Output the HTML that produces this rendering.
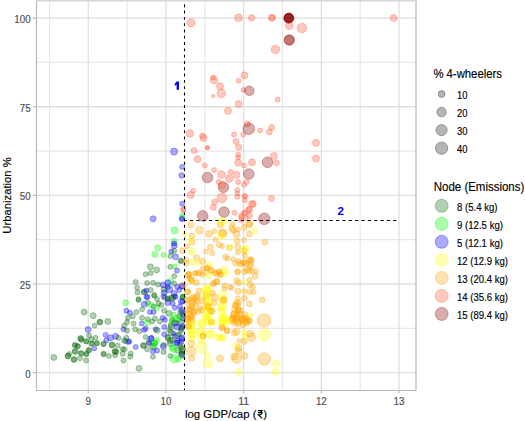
<!DOCTYPE html>
<html><head><meta charset="utf-8"><style>
html,body{margin:0;padding:0;background:#fff;width:525px;height:421px;overflow:hidden;}
svg{display:block;font-family:"Liberation Sans",sans-serif;}
</style></head><body>
<svg width="525" height="421" viewBox="0 0 525 421">
<rect x="0" y="0" width="525" height="421" fill="#ffffff"/>
<defs><clipPath id="pc"><rect x="36" y="0.5" width="380" height="390.0"/></clipPath></defs>
<path d="M49.42 0.5V390.5 M127.11 0.5V390.5 M204.80 0.5V390.5 M282.49 0.5V390.5 M360.17 0.5V390.5 M36 328.29H416 M36 239.66H416 M36 151.04H416 M36 62.41H416" stroke="#e8e8e8" stroke-width="1.2" fill="none"/>
<path d="M88.26 0.5V390.5 M165.95 0.5V390.5 M243.64 0.5V390.5 M321.33 0.5V390.5 M399.02 0.5V390.5 M36 372.60H416 M36 283.98H416 M36 195.35H416 M36 106.73H416 M36 18.10H416" stroke="#e0e0e0" stroke-width="1.3" fill="none"/>
<g clip-path="url(#pc)">
<circle cx="191.0" cy="22.9" r="4.15" fill="#ff6347" fill-opacity="0.35" stroke="#ff6347" stroke-opacity="0.35" stroke-width="1.0"/>
<circle cx="238.5" cy="17.8" r="3.80" fill="#ff6347" fill-opacity="0.35" stroke="#ff6347" stroke-opacity="0.35" stroke-width="1.0"/>
<circle cx="251.5" cy="17.8" r="3.25" fill="#ff6347" fill-opacity="0.35" stroke="#ff6347" stroke-opacity="0.35" stroke-width="1.0"/>
<circle cx="271.9" cy="17.8" r="3.50" fill="#ff6347" fill-opacity="0.35" stroke="#ff6347" stroke-opacity="0.35" stroke-width="1.0"/>
<circle cx="271.9" cy="17.8" r="3.00" fill="#ff6347" fill-opacity="0.35" stroke="#ff6347" stroke-opacity="0.35" stroke-width="1.0"/>
<circle cx="288.8" cy="18.1" r="5.15" fill="#8b0000" fill-opacity="0.32" stroke="#8b0000" stroke-opacity="0.32" stroke-width="1.0"/>
<circle cx="288.8" cy="18.1" r="4.80" fill="#8b0000" fill-opacity="0.32" stroke="#8b0000" stroke-opacity="0.32" stroke-width="1.0"/>
<circle cx="288.8" cy="18.1" r="4.30" fill="#8b0000" fill-opacity="0.32" stroke="#8b0000" stroke-opacity="0.32" stroke-width="1.0"/>
<circle cx="289.3" cy="25.8" r="3.80" fill="#ff6347" fill-opacity="0.35" stroke="#ff6347" stroke-opacity="0.35" stroke-width="1.0"/>
<circle cx="301.9" cy="28.0" r="4.80" fill="#ff6347" fill-opacity="0.35" stroke="#ff6347" stroke-opacity="0.35" stroke-width="1.0"/>
<circle cx="289.3" cy="40.0" r="5.30" fill="#8b0000" fill-opacity="0.32" stroke="#8b0000" stroke-opacity="0.32" stroke-width="1.0"/>
<circle cx="275.5" cy="49.5" r="4.30" fill="#ff6347" fill-opacity="0.35" stroke="#ff6347" stroke-opacity="0.35" stroke-width="1.0"/>
<circle cx="393.6" cy="18.1" r="3.50" fill="#ff6347" fill-opacity="0.35" stroke="#ff6347" stroke-opacity="0.35" stroke-width="1.0"/>
<circle cx="213.1" cy="77.5" r="2.50" fill="#ff6347" fill-opacity="0.35" stroke="#ff6347" stroke-opacity="0.35" stroke-width="1.0"/>
<circle cx="214.1" cy="80.1" r="3.80" fill="#ff6347" fill-opacity="0.35" stroke="#ff6347" stroke-opacity="0.35" stroke-width="1.0"/>
<circle cx="220.0" cy="86.3" r="3.50" fill="#ff6347" fill-opacity="0.35" stroke="#ff6347" stroke-opacity="0.35" stroke-width="1.0"/>
<circle cx="221.3" cy="93.5" r="4.30" fill="#ff6347" fill-opacity="0.35" stroke="#ff6347" stroke-opacity="0.35" stroke-width="1.0"/>
<circle cx="213.1" cy="96.1" r="1.75" fill="#ff6347" fill-opacity="0.35" stroke="#ff6347" stroke-opacity="0.35" stroke-width="1.0"/>
<circle cx="238.7" cy="80.7" r="2.50" fill="#ff6347" fill-opacity="0.35" stroke="#ff6347" stroke-opacity="0.35" stroke-width="1.0"/>
<circle cx="244.5" cy="75.3" r="3.50" fill="#ff6347" fill-opacity="0.35" stroke="#ff6347" stroke-opacity="0.35" stroke-width="1.0"/>
<circle cx="243.5" cy="90.0" r="2.50" fill="#ff6347" fill-opacity="0.35" stroke="#ff6347" stroke-opacity="0.35" stroke-width="1.0"/>
<circle cx="249.3" cy="90.8" r="4.80" fill="#8b0000" fill-opacity="0.32" stroke="#8b0000" stroke-opacity="0.32" stroke-width="1.0"/>
<circle cx="238.7" cy="104.1" r="3.50" fill="#ff6347" fill-opacity="0.35" stroke="#ff6347" stroke-opacity="0.35" stroke-width="1.0"/>
<circle cx="228.0" cy="110.8" r="3.50" fill="#ff6347" fill-opacity="0.35" stroke="#ff6347" stroke-opacity="0.35" stroke-width="1.0"/>
<circle cx="277.6" cy="99.6" r="2.50" fill="#ff6347" fill-opacity="0.35" stroke="#ff6347" stroke-opacity="0.35" stroke-width="1.0"/>
<circle cx="189.9" cy="133.5" r="3.80" fill="#ff6347" fill-opacity="0.35" stroke="#ff6347" stroke-opacity="0.35" stroke-width="1.0"/>
<circle cx="203.5" cy="138.0" r="3.50" fill="#ff6347" fill-opacity="0.35" stroke="#ff6347" stroke-opacity="0.35" stroke-width="1.0"/>
<circle cx="202.5" cy="136.0" r="3.00" fill="#ff6347" fill-opacity="0.35" stroke="#ff6347" stroke-opacity="0.35" stroke-width="1.0"/>
<circle cx="207.5" cy="147.9" r="2.00" fill="#ff6347" fill-opacity="0.35" stroke="#ff6347" stroke-opacity="0.35" stroke-width="1.0"/>
<circle cx="194.1" cy="150.5" r="3.00" fill="#ff6347" fill-opacity="0.35" stroke="#ff6347" stroke-opacity="0.35" stroke-width="1.0"/>
<circle cx="197.6" cy="159.1" r="3.50" fill="#ff6347" fill-opacity="0.35" stroke="#ff6347" stroke-opacity="0.35" stroke-width="1.0"/>
<circle cx="204.8" cy="165.5" r="2.50" fill="#ff6347" fill-opacity="0.35" stroke="#ff6347" stroke-opacity="0.35" stroke-width="1.0"/>
<circle cx="214.1" cy="170.0" r="2.50" fill="#ff6347" fill-opacity="0.35" stroke="#ff6347" stroke-opacity="0.35" stroke-width="1.0"/>
<circle cx="221.3" cy="174.5" r="3.80" fill="#ff6347" fill-opacity="0.35" stroke="#ff6347" stroke-opacity="0.35" stroke-width="1.0"/>
<circle cx="230.7" cy="171.9" r="2.50" fill="#ff6347" fill-opacity="0.35" stroke="#ff6347" stroke-opacity="0.35" stroke-width="1.0"/>
<circle cx="236.5" cy="174.8" r="3.50" fill="#ff6347" fill-opacity="0.35" stroke="#ff6347" stroke-opacity="0.35" stroke-width="1.0"/>
<circle cx="207.5" cy="177.5" r="5.30" fill="#8b0000" fill-opacity="0.32" stroke="#8b0000" stroke-opacity="0.32" stroke-width="1.0"/>
<circle cx="234.1" cy="134.5" r="2.50" fill="#ff6347" fill-opacity="0.35" stroke="#ff6347" stroke-opacity="0.35" stroke-width="1.0"/>
<circle cx="243.2" cy="134.5" r="2.50" fill="#ff6347" fill-opacity="0.35" stroke="#ff6347" stroke-opacity="0.35" stroke-width="1.0"/>
<circle cx="236.0" cy="141.5" r="3.00" fill="#ff6347" fill-opacity="0.35" stroke="#ff6347" stroke-opacity="0.35" stroke-width="1.0"/>
<circle cx="238.7" cy="147.3" r="3.00" fill="#ff6347" fill-opacity="0.35" stroke="#ff6347" stroke-opacity="0.35" stroke-width="1.0"/>
<circle cx="238.1" cy="154.8" r="2.50" fill="#ff6347" fill-opacity="0.35" stroke="#ff6347" stroke-opacity="0.35" stroke-width="1.0"/>
<circle cx="238.1" cy="157.5" r="2.50" fill="#ff6347" fill-opacity="0.35" stroke="#ff6347" stroke-opacity="0.35" stroke-width="1.0"/>
<circle cx="238.1" cy="162.8" r="3.50" fill="#ff6347" fill-opacity="0.35" stroke="#ff6347" stroke-opacity="0.35" stroke-width="1.0"/>
<circle cx="244.0" cy="165.5" r="2.50" fill="#ff6347" fill-opacity="0.35" stroke="#ff6347" stroke-opacity="0.35" stroke-width="1.0"/>
<circle cx="247.2" cy="123.9" r="3.00" fill="#ff6347" fill-opacity="0.35" stroke="#ff6347" stroke-opacity="0.35" stroke-width="1.0"/>
<circle cx="248.8" cy="128.7" r="5.80" fill="#8b0000" fill-opacity="0.32" stroke="#8b0000" stroke-opacity="0.32" stroke-width="1.0"/>
<circle cx="252.0" cy="162.3" r="3.50" fill="#ff6347" fill-opacity="0.35" stroke="#ff6347" stroke-opacity="0.35" stroke-width="1.0"/>
<circle cx="248.8" cy="174.0" r="5.30" fill="#8b0000" fill-opacity="0.32" stroke="#8b0000" stroke-opacity="0.32" stroke-width="1.0"/>
<circle cx="260.0" cy="130.5" r="2.50" fill="#ff6347" fill-opacity="0.35" stroke="#ff6347" stroke-opacity="0.35" stroke-width="1.0"/>
<circle cx="269.3" cy="131.9" r="3.00" fill="#ff6347" fill-opacity="0.35" stroke="#ff6347" stroke-opacity="0.35" stroke-width="1.0"/>
<circle cx="271.7" cy="127.6" r="3.00" fill="#ff6347" fill-opacity="0.35" stroke="#ff6347" stroke-opacity="0.35" stroke-width="1.0"/>
<circle cx="267.5" cy="162.3" r="5.30" fill="#8b0000" fill-opacity="0.32" stroke="#8b0000" stroke-opacity="0.32" stroke-width="1.0"/>
<circle cx="273.9" cy="155.9" r="3.50" fill="#ff6347" fill-opacity="0.35" stroke="#ff6347" stroke-opacity="0.35" stroke-width="1.0"/>
<circle cx="276.5" cy="162.8" r="3.00" fill="#ff6347" fill-opacity="0.35" stroke="#ff6347" stroke-opacity="0.35" stroke-width="1.0"/>
<circle cx="316.0" cy="142.8" r="3.50" fill="#ff6347" fill-opacity="0.35" stroke="#ff6347" stroke-opacity="0.35" stroke-width="1.0"/>
<circle cx="316.0" cy="158.5" r="3.50" fill="#ff6347" fill-opacity="0.35" stroke="#ff6347" stroke-opacity="0.35" stroke-width="1.0"/>
<circle cx="174.1" cy="151.6" r="3.55" fill="#0000ff" fill-opacity="0.33" stroke="#0000ff" stroke-opacity="0.33" stroke-width="1.0"/>
<circle cx="182.1" cy="166.9" r="2.50" fill="#0000ff" fill-opacity="0.33" stroke="#0000ff" stroke-opacity="0.33" stroke-width="1.0"/>
<circle cx="181.6" cy="175.4" r="2.75" fill="#0000ff" fill-opacity="0.33" stroke="#0000ff" stroke-opacity="0.33" stroke-width="1.0"/>
<circle cx="182.1" cy="203.7" r="2.50" fill="#0000ff" fill-opacity="0.33" stroke="#0000ff" stroke-opacity="0.33" stroke-width="1.0"/>
<circle cx="207.3" cy="147.5" r="2.00" fill="#ff6347" fill-opacity="0.35" stroke="#ff6347" stroke-opacity="0.35" stroke-width="1.0"/>
<circle cx="193.2" cy="190.7" r="2.50" fill="#ff6347" fill-opacity="0.35" stroke="#ff6347" stroke-opacity="0.35" stroke-width="1.0"/>
<circle cx="190.7" cy="194.9" r="3.50" fill="#ff6347" fill-opacity="0.35" stroke="#ff6347" stroke-opacity="0.35" stroke-width="1.0"/>
<circle cx="183.6" cy="209.0" r="2.50" fill="#ff6347" fill-opacity="0.35" stroke="#ff6347" stroke-opacity="0.35" stroke-width="1.0"/>
<circle cx="229.3" cy="178.5" r="3.80" fill="#ff6347" fill-opacity="0.35" stroke="#ff6347" stroke-opacity="0.35" stroke-width="1.0"/>
<circle cx="238.1" cy="182.0" r="2.50" fill="#ff6347" fill-opacity="0.35" stroke="#ff6347" stroke-opacity="0.35" stroke-width="1.0"/>
<circle cx="218.7" cy="182.0" r="2.50" fill="#ff6347" fill-opacity="0.35" stroke="#ff6347" stroke-opacity="0.35" stroke-width="1.0"/>
<circle cx="223.5" cy="187.3" r="5.30" fill="#8b0000" fill-opacity="0.32" stroke="#8b0000" stroke-opacity="0.32" stroke-width="1.0"/>
<circle cx="222.0" cy="185.0" r="3.80" fill="#ff6347" fill-opacity="0.35" stroke="#ff6347" stroke-opacity="0.35" stroke-width="1.0"/>
<circle cx="244.0" cy="184.7" r="2.50" fill="#ff6347" fill-opacity="0.35" stroke="#ff6347" stroke-opacity="0.35" stroke-width="1.0"/>
<circle cx="246.7" cy="182.0" r="2.50" fill="#ff6347" fill-opacity="0.35" stroke="#ff6347" stroke-opacity="0.35" stroke-width="1.0"/>
<circle cx="237.3" cy="190.0" r="2.50" fill="#ff6347" fill-opacity="0.35" stroke="#ff6347" stroke-opacity="0.35" stroke-width="1.0"/>
<circle cx="237.3" cy="193.5" r="2.50" fill="#ff6347" fill-opacity="0.35" stroke="#ff6347" stroke-opacity="0.35" stroke-width="1.0"/>
<circle cx="237.3" cy="196.7" r="2.50" fill="#ff6347" fill-opacity="0.35" stroke="#ff6347" stroke-opacity="0.35" stroke-width="1.0"/>
<circle cx="244.8" cy="196.1" r="2.50" fill="#ff6347" fill-opacity="0.35" stroke="#ff6347" stroke-opacity="0.35" stroke-width="1.0"/>
<circle cx="221.9" cy="198.0" r="4.80" fill="#ff6347" fill-opacity="0.35" stroke="#ff6347" stroke-opacity="0.35" stroke-width="1.0"/>
<circle cx="214.7" cy="202.0" r="3.00" fill="#ff6347" fill-opacity="0.35" stroke="#ff6347" stroke-opacity="0.35" stroke-width="1.0"/>
<circle cx="213.3" cy="207.3" r="3.00" fill="#ff6347" fill-opacity="0.35" stroke="#ff6347" stroke-opacity="0.35" stroke-width="1.0"/>
<circle cx="252.0" cy="204.1" r="3.50" fill="#ff6347" fill-opacity="0.35" stroke="#ff6347" stroke-opacity="0.35" stroke-width="1.0"/>
<circle cx="271.5" cy="198.5" r="3.00" fill="#ff6347" fill-opacity="0.35" stroke="#ff6347" stroke-opacity="0.35" stroke-width="1.0"/>
<circle cx="248.8" cy="209.5" r="3.00" fill="#ff6347" fill-opacity="0.35" stroke="#ff6347" stroke-opacity="0.35" stroke-width="1.0"/>
<circle cx="202.7" cy="215.9" r="5.30" fill="#8b0000" fill-opacity="0.32" stroke="#8b0000" stroke-opacity="0.32" stroke-width="1.0"/>
<circle cx="224.0" cy="212.1" r="5.30" fill="#8b0000" fill-opacity="0.32" stroke="#8b0000" stroke-opacity="0.32" stroke-width="1.0"/>
<circle cx="234.7" cy="212.7" r="2.50" fill="#ff6347" fill-opacity="0.35" stroke="#ff6347" stroke-opacity="0.35" stroke-width="1.0"/>
<circle cx="244.0" cy="212.7" r="2.50" fill="#ff6347" fill-opacity="0.35" stroke="#ff6347" stroke-opacity="0.35" stroke-width="1.0"/>
<circle cx="264.3" cy="218.8" r="5.80" fill="#8b0000" fill-opacity="0.32" stroke="#8b0000" stroke-opacity="0.32" stroke-width="1.0"/>
<circle cx="241.3" cy="217.5" r="2.50" fill="#ff6347" fill-opacity="0.35" stroke="#ff6347" stroke-opacity="0.35" stroke-width="1.0"/>
<circle cx="246.1" cy="218.0" r="2.50" fill="#ff6347" fill-opacity="0.35" stroke="#ff6347" stroke-opacity="0.35" stroke-width="1.0"/>
<circle cx="182.1" cy="218.0" r="2.50" fill="#0000ff" fill-opacity="0.33" stroke="#0000ff" stroke-opacity="0.33" stroke-width="1.0"/>
<circle cx="182.1" cy="215.3" r="2.50" fill="#00ff00" fill-opacity="0.33" stroke="#00ff00" stroke-opacity="0.33" stroke-width="1.0"/>
<circle cx="183.2" cy="210.0" r="2.50" fill="#ff6347" fill-opacity="0.35" stroke="#ff6347" stroke-opacity="0.35" stroke-width="1.0"/>
<circle cx="154.3" cy="343.1" r="3.00" fill="#006400" fill-opacity="0.3" stroke="#006400" stroke-opacity="0.3" stroke-width="1.0"/>
<circle cx="152.9" cy="346.4" r="3.00" fill="#006400" fill-opacity="0.3" stroke="#006400" stroke-opacity="0.3" stroke-width="1.0"/>
<circle cx="151.0" cy="338.8" r="3.00" fill="#0000ff" fill-opacity="0.33" stroke="#0000ff" stroke-opacity="0.33" stroke-width="1.0"/>
<circle cx="163.3" cy="346.4" r="3.00" fill="#0000ff" fill-opacity="0.33" stroke="#0000ff" stroke-opacity="0.33" stroke-width="1.0"/>
<circle cx="168.0" cy="337.9" r="3.00" fill="#006400" fill-opacity="0.3" stroke="#006400" stroke-opacity="0.3" stroke-width="1.0"/>
<circle cx="170.4" cy="340.7" r="3.00" fill="#006400" fill-opacity="0.3" stroke="#006400" stroke-opacity="0.3" stroke-width="1.0"/>
<circle cx="170.0" cy="343.6" r="3.00" fill="#006400" fill-opacity="0.3" stroke="#006400" stroke-opacity="0.3" stroke-width="1.0"/>
<circle cx="176.6" cy="343.1" r="3.00" fill="#0000ff" fill-opacity="0.33" stroke="#0000ff" stroke-opacity="0.33" stroke-width="1.0"/>
<circle cx="177.6" cy="350.2" r="3.00" fill="#006400" fill-opacity="0.3" stroke="#006400" stroke-opacity="0.3" stroke-width="1.0"/>
<circle cx="181.8" cy="354.5" r="3.00" fill="#0000ff" fill-opacity="0.33" stroke="#0000ff" stroke-opacity="0.33" stroke-width="1.0"/>
<circle cx="237.1" cy="302.6" r="3.00" fill="#ffa500" fill-opacity="0.32" stroke="#ffa500" stroke-opacity="0.32" stroke-width="1.0"/>
<circle cx="235.4" cy="305.1" r="3.00" fill="#ffa500" fill-opacity="0.32" stroke="#ffa500" stroke-opacity="0.32" stroke-width="1.0"/>
<circle cx="238.8" cy="303.4" r="3.00" fill="#ffa500" fill-opacity="0.32" stroke="#ffa500" stroke-opacity="0.32" stroke-width="1.0"/>
<circle cx="234.5" cy="309.4" r="3.00" fill="#ffa500" fill-opacity="0.32" stroke="#ffa500" stroke-opacity="0.32" stroke-width="1.0"/>
<circle cx="238.0" cy="309.4" r="3.00" fill="#ffa500" fill-opacity="0.32" stroke="#ffa500" stroke-opacity="0.32" stroke-width="1.0"/>
<circle cx="240.1" cy="310.3" r="3.00" fill="#ffa500" fill-opacity="0.32" stroke="#ffa500" stroke-opacity="0.32" stroke-width="1.0"/>
<circle cx="234.1" cy="313.7" r="3.00" fill="#ffa500" fill-opacity="0.32" stroke="#ffa500" stroke-opacity="0.32" stroke-width="1.0"/>
<circle cx="237.5" cy="312.8" r="3.00" fill="#ffa500" fill-opacity="0.32" stroke="#ffa500" stroke-opacity="0.32" stroke-width="1.0"/>
<circle cx="239.7" cy="314.5" r="3.00" fill="#ffa500" fill-opacity="0.32" stroke="#ffa500" stroke-opacity="0.32" stroke-width="1.0"/>
<circle cx="232.8" cy="318.0" r="3.00" fill="#ffa500" fill-opacity="0.32" stroke="#ffa500" stroke-opacity="0.32" stroke-width="1.0"/>
<circle cx="235.4" cy="318.8" r="3.00" fill="#ffa500" fill-opacity="0.32" stroke="#ffa500" stroke-opacity="0.32" stroke-width="1.0"/>
<circle cx="238.4" cy="318.8" r="3.00" fill="#ffa500" fill-opacity="0.32" stroke="#ffa500" stroke-opacity="0.32" stroke-width="1.0"/>
<circle cx="241.8" cy="319.7" r="3.00" fill="#ffa500" fill-opacity="0.32" stroke="#ffa500" stroke-opacity="0.32" stroke-width="1.0"/>
<circle cx="244.8" cy="318.0" r="3.00" fill="#ffa500" fill-opacity="0.32" stroke="#ffa500" stroke-opacity="0.32" stroke-width="1.0"/>
<circle cx="244.8" cy="314.5" r="3.00" fill="#ffa500" fill-opacity="0.32" stroke="#ffa500" stroke-opacity="0.32" stroke-width="1.0"/>
<circle cx="246.5" cy="321.4" r="3.00" fill="#ffa500" fill-opacity="0.32" stroke="#ffa500" stroke-opacity="0.32" stroke-width="1.0"/>
<circle cx="249.1" cy="320.5" r="3.00" fill="#ffa500" fill-opacity="0.32" stroke="#ffa500" stroke-opacity="0.32" stroke-width="1.0"/>
<circle cx="234.5" cy="323.1" r="3.00" fill="#ffa500" fill-opacity="0.32" stroke="#ffa500" stroke-opacity="0.32" stroke-width="1.0"/>
<circle cx="238.8" cy="323.9" r="3.00" fill="#ffa500" fill-opacity="0.32" stroke="#ffa500" stroke-opacity="0.32" stroke-width="1.0"/>
<circle cx="243.1" cy="324.8" r="3.00" fill="#ffa500" fill-opacity="0.32" stroke="#ffa500" stroke-opacity="0.32" stroke-width="1.0"/>
<circle cx="288.8" cy="18.1" r="4.80" fill="#8b0000" fill-opacity="0.32" stroke="#8b0000" stroke-opacity="0.32" stroke-width="1.0"/>
<circle cx="288.8" cy="18.1" r="4.30" fill="#8b0000" fill-opacity="0.32" stroke="#8b0000" stroke-opacity="0.32" stroke-width="1.0"/>
<circle cx="289.3" cy="40.0" r="4.80" fill="#8b0000" fill-opacity="0.32" stroke="#8b0000" stroke-opacity="0.32" stroke-width="1.0"/>
<circle cx="187.8" cy="299.9" r="3.00" fill="#ffa500" fill-opacity="0.32" stroke="#ffa500" stroke-opacity="0.32" stroke-width="1.0"/>
<circle cx="191.7" cy="298.3" r="3.00" fill="#ffa500" fill-opacity="0.32" stroke="#ffa500" stroke-opacity="0.32" stroke-width="1.0"/>
<circle cx="194.9" cy="299.9" r="3.00" fill="#ffa500" fill-opacity="0.32" stroke="#ffa500" stroke-opacity="0.32" stroke-width="1.0"/>
<circle cx="197.1" cy="297.2" r="3.00" fill="#ffa500" fill-opacity="0.32" stroke="#ffa500" stroke-opacity="0.32" stroke-width="1.0"/>
<circle cx="188.4" cy="303.7" r="3.00" fill="#ffa500" fill-opacity="0.32" stroke="#ffa500" stroke-opacity="0.32" stroke-width="1.0"/>
<circle cx="192.2" cy="305.9" r="3.00" fill="#ffa500" fill-opacity="0.32" stroke="#ffa500" stroke-opacity="0.32" stroke-width="1.0"/>
<circle cx="195.5" cy="303.7" r="3.00" fill="#ffa500" fill-opacity="0.32" stroke="#ffa500" stroke-opacity="0.32" stroke-width="1.0"/>
<circle cx="187.3" cy="310.3" r="3.00" fill="#ffa500" fill-opacity="0.32" stroke="#ffa500" stroke-opacity="0.32" stroke-width="1.0"/>
<circle cx="191.1" cy="309.2" r="3.00" fill="#ffa500" fill-opacity="0.32" stroke="#ffa500" stroke-opacity="0.32" stroke-width="1.0"/>
<circle cx="194.4" cy="311.4" r="3.00" fill="#ffa500" fill-opacity="0.32" stroke="#ffa500" stroke-opacity="0.32" stroke-width="1.0"/>
<circle cx="198.2" cy="311.4" r="3.00" fill="#ffa500" fill-opacity="0.32" stroke="#ffa500" stroke-opacity="0.32" stroke-width="1.0"/>
<circle cx="201.5" cy="310.3" r="3.00" fill="#ffa500" fill-opacity="0.32" stroke="#ffa500" stroke-opacity="0.32" stroke-width="1.0"/>
<circle cx="188.4" cy="314.1" r="3.00" fill="#ffa500" fill-opacity="0.32" stroke="#ffa500" stroke-opacity="0.32" stroke-width="1.0"/>
<circle cx="192.2" cy="315.8" r="3.00" fill="#ffa500" fill-opacity="0.32" stroke="#ffa500" stroke-opacity="0.32" stroke-width="1.0"/>
<circle cx="190.6" cy="318.0" r="3.00" fill="#ffa500" fill-opacity="0.32" stroke="#ffa500" stroke-opacity="0.32" stroke-width="1.0"/>
<circle cx="188.4" cy="320.1" r="3.00" fill="#ffa500" fill-opacity="0.32" stroke="#ffa500" stroke-opacity="0.32" stroke-width="1.0"/>
<circle cx="192.2" cy="322.3" r="3.50" fill="#ffff00" fill-opacity="0.3" stroke="#ffff00" stroke-opacity="0.3" stroke-width="1.0"/>
<circle cx="188.4" cy="325.6" r="3.00" fill="#ffa500" fill-opacity="0.32" stroke="#ffa500" stroke-opacity="0.32" stroke-width="1.0"/>
<circle cx="191.7" cy="325.6" r="3.50" fill="#ffff00" fill-opacity="0.3" stroke="#ffff00" stroke-opacity="0.3" stroke-width="1.0"/>
<circle cx="190.6" cy="330.0" r="3.50" fill="#ffff00" fill-opacity="0.3" stroke="#ffff00" stroke-opacity="0.3" stroke-width="1.0"/>
<circle cx="192.2" cy="333.8" r="3.50" fill="#ffff00" fill-opacity="0.3" stroke="#ffff00" stroke-opacity="0.3" stroke-width="1.0"/>
<circle cx="191.7" cy="338.2" r="3.50" fill="#ffff00" fill-opacity="0.3" stroke="#ffff00" stroke-opacity="0.3" stroke-width="1.0"/>
<circle cx="205.9" cy="298.3" r="3.80" fill="#ffff00" fill-opacity="0.3" stroke="#ffff00" stroke-opacity="0.3" stroke-width="1.0"/>
<circle cx="209.1" cy="301.6" r="3.80" fill="#ffff00" fill-opacity="0.3" stroke="#ffff00" stroke-opacity="0.3" stroke-width="1.0"/>
<circle cx="207.0" cy="305.9" r="3.00" fill="#ffa500" fill-opacity="0.32" stroke="#ffa500" stroke-opacity="0.32" stroke-width="1.0"/>
<circle cx="208.6" cy="307.6" r="3.00" fill="#ffa500" fill-opacity="0.32" stroke="#ffa500" stroke-opacity="0.32" stroke-width="1.0"/>
<circle cx="210.2" cy="311.4" r="3.80" fill="#ffff00" fill-opacity="0.3" stroke="#ffff00" stroke-opacity="0.3" stroke-width="1.0"/>
<circle cx="210.5" cy="311.0" r="3.00" fill="#ffa500" fill-opacity="0.32" stroke="#ffa500" stroke-opacity="0.32" stroke-width="1.0"/>
<circle cx="205.9" cy="316.9" r="3.80" fill="#ffff00" fill-opacity="0.3" stroke="#ffff00" stroke-opacity="0.3" stroke-width="1.0"/>
<circle cx="207.5" cy="321.2" r="3.80" fill="#ffff00" fill-opacity="0.3" stroke="#ffff00" stroke-opacity="0.3" stroke-width="1.0"/>
<circle cx="211.3" cy="322.3" r="3.80" fill="#ffff00" fill-opacity="0.3" stroke="#ffff00" stroke-opacity="0.3" stroke-width="1.0"/>
<circle cx="201.5" cy="323.4" r="3.80" fill="#ffff00" fill-opacity="0.3" stroke="#ffff00" stroke-opacity="0.3" stroke-width="1.0"/>
<circle cx="200.4" cy="332.2" r="3.80" fill="#ffff00" fill-opacity="0.3" stroke="#ffff00" stroke-opacity="0.3" stroke-width="1.0"/>
<circle cx="203.1" cy="336.0" r="3.00" fill="#ffa500" fill-opacity="0.32" stroke="#ffa500" stroke-opacity="0.32" stroke-width="1.0"/>
<circle cx="210.2" cy="333.8" r="3.80" fill="#ffff00" fill-opacity="0.3" stroke="#ffff00" stroke-opacity="0.3" stroke-width="1.0"/>
<circle cx="222.3" cy="299.4" r="3.80" fill="#ffff00" fill-opacity="0.3" stroke="#ffff00" stroke-opacity="0.3" stroke-width="1.0"/>
<circle cx="223.9" cy="299.9" r="3.00" fill="#ffa500" fill-opacity="0.32" stroke="#ffa500" stroke-opacity="0.32" stroke-width="1.0"/>
<circle cx="221.7" cy="308.1" r="3.80" fill="#ffff00" fill-opacity="0.3" stroke="#ffff00" stroke-opacity="0.3" stroke-width="1.0"/>
<circle cx="223.3" cy="319.0" r="3.80" fill="#ffff00" fill-opacity="0.3" stroke="#ffff00" stroke-opacity="0.3" stroke-width="1.0"/>
<circle cx="221.7" cy="323.4" r="3.80" fill="#ffff00" fill-opacity="0.3" stroke="#ffff00" stroke-opacity="0.3" stroke-width="1.0"/>
<circle cx="222.3" cy="327.8" r="3.00" fill="#ffa500" fill-opacity="0.32" stroke="#ffa500" stroke-opacity="0.32" stroke-width="1.0"/>
<circle cx="227.2" cy="330.5" r="3.00" fill="#ffa500" fill-opacity="0.32" stroke="#ffa500" stroke-opacity="0.32" stroke-width="1.0"/>
<circle cx="219.0" cy="337.1" r="3.50" fill="#ffff00" fill-opacity="0.3" stroke="#ffff00" stroke-opacity="0.3" stroke-width="1.0"/>
<circle cx="222.3" cy="337.6" r="3.50" fill="#ffff00" fill-opacity="0.3" stroke="#ffff00" stroke-opacity="0.3" stroke-width="1.0"/>
<circle cx="190.7" cy="224.9" r="3.00" fill="#ffa500" fill-opacity="0.32" stroke="#ffa500" stroke-opacity="0.32" stroke-width="1.0"/>
<circle cx="199.5" cy="230.2" r="3.80" fill="#ffa500" fill-opacity="0.32" stroke="#ffa500" stroke-opacity="0.32" stroke-width="1.0"/>
<circle cx="184.3" cy="233.6" r="2.50" fill="#ffff00" fill-opacity="0.3" stroke="#ffff00" stroke-opacity="0.3" stroke-width="1.0"/>
<circle cx="191.9" cy="235.9" r="3.00" fill="#ffa500" fill-opacity="0.32" stroke="#ffa500" stroke-opacity="0.32" stroke-width="1.0"/>
<circle cx="191.9" cy="242.4" r="3.00" fill="#ffa500" fill-opacity="0.32" stroke="#ffa500" stroke-opacity="0.32" stroke-width="1.0"/>
<circle cx="186.9" cy="246.2" r="2.50" fill="#ffa500" fill-opacity="0.32" stroke="#ffa500" stroke-opacity="0.32" stroke-width="1.0"/>
<circle cx="182.3" cy="250.8" r="3.00" fill="#ffa500" fill-opacity="0.32" stroke="#ffa500" stroke-opacity="0.32" stroke-width="1.0"/>
<circle cx="191.9" cy="251.6" r="3.80" fill="#ffff00" fill-opacity="0.3" stroke="#ffff00" stroke-opacity="0.3" stroke-width="1.0"/>
<circle cx="196.8" cy="257.7" r="3.00" fill="#ffa500" fill-opacity="0.32" stroke="#ffa500" stroke-opacity="0.32" stroke-width="1.0"/>
<circle cx="186.1" cy="260.0" r="2.50" fill="#ffa500" fill-opacity="0.32" stroke="#ffa500" stroke-opacity="0.32" stroke-width="1.0"/>
<circle cx="192.2" cy="262.2" r="3.00" fill="#ffff00" fill-opacity="0.3" stroke="#ffff00" stroke-opacity="0.3" stroke-width="1.0"/>
<circle cx="198.0" cy="262.5" r="3.00" fill="#ffff00" fill-opacity="0.3" stroke="#ffff00" stroke-opacity="0.3" stroke-width="1.0"/>
<circle cx="202.6" cy="261.5" r="3.00" fill="#ffa500" fill-opacity="0.32" stroke="#ffa500" stroke-opacity="0.32" stroke-width="1.0"/>
<circle cx="181.2" cy="260.7" r="2.50" fill="#006400" fill-opacity="0.3" stroke="#006400" stroke-opacity="0.3" stroke-width="1.0"/>
<circle cx="209.0" cy="234.0" r="3.50" fill="#ffa500" fill-opacity="0.32" stroke="#ffa500" stroke-opacity="0.32" stroke-width="1.0"/>
<circle cx="214.3" cy="231.0" r="2.50" fill="#ffa500" fill-opacity="0.32" stroke="#ffa500" stroke-opacity="0.32" stroke-width="1.0"/>
<circle cx="210.5" cy="247.0" r="3.00" fill="#ffa500" fill-opacity="0.32" stroke="#ffa500" stroke-opacity="0.32" stroke-width="1.0"/>
<circle cx="205.9" cy="251.6" r="2.50" fill="#ffa500" fill-opacity="0.32" stroke="#ffa500" stroke-opacity="0.32" stroke-width="1.0"/>
<circle cx="212.0" cy="253.1" r="2.50" fill="#ffa500" fill-opacity="0.32" stroke="#ffa500" stroke-opacity="0.32" stroke-width="1.0"/>
<circle cx="215.4" cy="239.4" r="2.50" fill="#ffa500" fill-opacity="0.32" stroke="#ffa500" stroke-opacity="0.32" stroke-width="1.0"/>
<circle cx="221.1" cy="221.9" r="3.50" fill="#ffff00" fill-opacity="0.3" stroke="#ffff00" stroke-opacity="0.3" stroke-width="1.0"/>
<circle cx="220.4" cy="224.9" r="3.00" fill="#ffa500" fill-opacity="0.32" stroke="#ffa500" stroke-opacity="0.32" stroke-width="1.0"/>
<circle cx="222.7" cy="233.3" r="4.30" fill="#ffa500" fill-opacity="0.32" stroke="#ffa500" stroke-opacity="0.32" stroke-width="1.0"/>
<circle cx="222.7" cy="233.3" r="3.50" fill="#ffa500" fill-opacity="0.32" stroke="#ffa500" stroke-opacity="0.32" stroke-width="1.0"/>
<circle cx="221.1" cy="236.3" r="3.50" fill="#ffff00" fill-opacity="0.3" stroke="#ffff00" stroke-opacity="0.3" stroke-width="1.0"/>
<circle cx="219.3" cy="244.7" r="3.00" fill="#ffa500" fill-opacity="0.32" stroke="#ffa500" stroke-opacity="0.32" stroke-width="1.0"/>
<circle cx="221.9" cy="246.2" r="2.50" fill="#ffa500" fill-opacity="0.32" stroke="#ffa500" stroke-opacity="0.32" stroke-width="1.0"/>
<circle cx="229.5" cy="247.8" r="3.00" fill="#ffa500" fill-opacity="0.32" stroke="#ffa500" stroke-opacity="0.32" stroke-width="1.0"/>
<circle cx="231.0" cy="247.0" r="2.50" fill="#ffff00" fill-opacity="0.3" stroke="#ffff00" stroke-opacity="0.3" stroke-width="1.0"/>
<circle cx="225.7" cy="256.9" r="3.00" fill="#ffa500" fill-opacity="0.32" stroke="#ffa500" stroke-opacity="0.32" stroke-width="1.0"/>
<circle cx="227.5" cy="258.5" r="2.50" fill="#ffa500" fill-opacity="0.32" stroke="#ffa500" stroke-opacity="0.32" stroke-width="1.0"/>
<circle cx="231.8" cy="228.0" r="3.00" fill="#ffa500" fill-opacity="0.32" stroke="#ffa500" stroke-opacity="0.32" stroke-width="1.0"/>
<circle cx="233.0" cy="230.2" r="3.00" fill="#ffa500" fill-opacity="0.32" stroke="#ffa500" stroke-opacity="0.32" stroke-width="1.0"/>
<circle cx="237.9" cy="229.5" r="2.50" fill="#ffa500" fill-opacity="0.32" stroke="#ffa500" stroke-opacity="0.32" stroke-width="1.0"/>
<circle cx="236.4" cy="234.0" r="3.50" fill="#ffa500" fill-opacity="0.32" stroke="#ffa500" stroke-opacity="0.32" stroke-width="1.0"/>
<circle cx="232.6" cy="224.1" r="2.50" fill="#ffa500" fill-opacity="0.32" stroke="#ffa500" stroke-opacity="0.32" stroke-width="1.0"/>
<circle cx="244.0" cy="227.2" r="3.00" fill="#ffa500" fill-opacity="0.32" stroke="#ffa500" stroke-opacity="0.32" stroke-width="1.0"/>
<circle cx="249.3" cy="224.1" r="3.50" fill="#ffa500" fill-opacity="0.32" stroke="#ffa500" stroke-opacity="0.32" stroke-width="1.0"/>
<circle cx="249.3" cy="234.0" r="3.00" fill="#ffa500" fill-opacity="0.32" stroke="#ffa500" stroke-opacity="0.32" stroke-width="1.0"/>
<circle cx="254.7" cy="231.0" r="3.00" fill="#ffff00" fill-opacity="0.3" stroke="#ffff00" stroke-opacity="0.3" stroke-width="1.0"/>
<circle cx="237.1" cy="240.9" r="3.00" fill="#ffa500" fill-opacity="0.32" stroke="#ffa500" stroke-opacity="0.32" stroke-width="1.0"/>
<circle cx="237.9" cy="247.0" r="3.00" fill="#ffa500" fill-opacity="0.32" stroke="#ffa500" stroke-opacity="0.32" stroke-width="1.0"/>
<circle cx="244.0" cy="240.1" r="2.50" fill="#ffa500" fill-opacity="0.32" stroke="#ffa500" stroke-opacity="0.32" stroke-width="1.0"/>
<circle cx="237.9" cy="252.3" r="2.50" fill="#ffa500" fill-opacity="0.32" stroke="#ffa500" stroke-opacity="0.32" stroke-width="1.0"/>
<circle cx="245.5" cy="249.3" r="3.80" fill="#ffff00" fill-opacity="0.3" stroke="#ffff00" stroke-opacity="0.3" stroke-width="1.0"/>
<circle cx="244.0" cy="250.8" r="3.00" fill="#ffa500" fill-opacity="0.32" stroke="#ffa500" stroke-opacity="0.32" stroke-width="1.0"/>
<circle cx="244.8" cy="255.4" r="2.50" fill="#ffa500" fill-opacity="0.32" stroke="#ffa500" stroke-opacity="0.32" stroke-width="1.0"/>
<circle cx="233.3" cy="259.2" r="2.50" fill="#ffa500" fill-opacity="0.32" stroke="#ffa500" stroke-opacity="0.32" stroke-width="1.0"/>
<circle cx="238.7" cy="261.5" r="3.00" fill="#ffa500" fill-opacity="0.32" stroke="#ffa500" stroke-opacity="0.32" stroke-width="1.0"/>
<circle cx="244.0" cy="262.2" r="3.00" fill="#ffa500" fill-opacity="0.32" stroke="#ffa500" stroke-opacity="0.32" stroke-width="1.0"/>
<circle cx="249.3" cy="260.0" r="3.00" fill="#ffa500" fill-opacity="0.32" stroke="#ffa500" stroke-opacity="0.32" stroke-width="1.0"/>
<circle cx="251.6" cy="259.2" r="2.50" fill="#ffa500" fill-opacity="0.32" stroke="#ffa500" stroke-opacity="0.32" stroke-width="1.0"/>
<circle cx="256.2" cy="271.4" r="2.50" fill="#ffa500" fill-opacity="0.32" stroke="#ffa500" stroke-opacity="0.32" stroke-width="1.0"/>
<circle cx="250.1" cy="266.8" r="3.00" fill="#ffa500" fill-opacity="0.32" stroke="#ffa500" stroke-opacity="0.32" stroke-width="1.0"/>
<circle cx="247.0" cy="269.9" r="3.00" fill="#ffa500" fill-opacity="0.32" stroke="#ffa500" stroke-opacity="0.32" stroke-width="1.0"/>
<circle cx="237.9" cy="271.4" r="2.50" fill="#ffa500" fill-opacity="0.32" stroke="#ffa500" stroke-opacity="0.32" stroke-width="1.0"/>
<circle cx="224.2" cy="269.9" r="3.80" fill="#ffff00" fill-opacity="0.3" stroke="#ffff00" stroke-opacity="0.3" stroke-width="1.0"/>
<circle cx="219.6" cy="272.1" r="2.50" fill="#ffa500" fill-opacity="0.32" stroke="#ffa500" stroke-opacity="0.32" stroke-width="1.0"/>
<circle cx="209.0" cy="265.3" r="3.80" fill="#ffff00" fill-opacity="0.3" stroke="#ffff00" stroke-opacity="0.3" stroke-width="1.0"/>
<circle cx="207.4" cy="268.3" r="2.50" fill="#ffa500" fill-opacity="0.32" stroke="#ffa500" stroke-opacity="0.32" stroke-width="1.0"/>
<circle cx="210.5" cy="269.9" r="3.00" fill="#ffa500" fill-opacity="0.32" stroke="#ffa500" stroke-opacity="0.32" stroke-width="1.0"/>
<circle cx="202.9" cy="268.3" r="2.50" fill="#ffa500" fill-opacity="0.32" stroke="#ffa500" stroke-opacity="0.32" stroke-width="1.0"/>
<circle cx="195.2" cy="272.9" r="2.50" fill="#ffa500" fill-opacity="0.32" stroke="#ffa500" stroke-opacity="0.32" stroke-width="1.0"/>
<circle cx="189.1" cy="273.7" r="2.50" fill="#ffa500" fill-opacity="0.32" stroke="#ffa500" stroke-opacity="0.32" stroke-width="1.0"/>
<circle cx="188.5" cy="274.8" r="3.00" fill="#ffa500" fill-opacity="0.32" stroke="#ffa500" stroke-opacity="0.32" stroke-width="1.0"/>
<circle cx="190.9" cy="278.9" r="3.00" fill="#ffa500" fill-opacity="0.32" stroke="#ffa500" stroke-opacity="0.32" stroke-width="1.0"/>
<circle cx="192.1" cy="281.9" r="2.50" fill="#ffff00" fill-opacity="0.3" stroke="#ffff00" stroke-opacity="0.3" stroke-width="1.0"/>
<circle cx="196.3" cy="282.5" r="3.00" fill="#ffa500" fill-opacity="0.32" stroke="#ffa500" stroke-opacity="0.32" stroke-width="1.0"/>
<circle cx="195.1" cy="273.6" r="2.50" fill="#ffa500" fill-opacity="0.32" stroke="#ffa500" stroke-opacity="0.32" stroke-width="1.0"/>
<circle cx="198.6" cy="273.0" r="2.50" fill="#ffa500" fill-opacity="0.32" stroke="#ffa500" stroke-opacity="0.32" stroke-width="1.0"/>
<circle cx="202.2" cy="274.8" r="2.50" fill="#ffa500" fill-opacity="0.32" stroke="#ffa500" stroke-opacity="0.32" stroke-width="1.0"/>
<circle cx="204.6" cy="272.4" r="2.50" fill="#ffa500" fill-opacity="0.32" stroke="#ffa500" stroke-opacity="0.32" stroke-width="1.0"/>
<circle cx="208.7" cy="275.3" r="3.80" fill="#ffff00" fill-opacity="0.3" stroke="#ffff00" stroke-opacity="0.3" stroke-width="1.0"/>
<circle cx="213.5" cy="283.7" r="2.50" fill="#ffa500" fill-opacity="0.32" stroke="#ffa500" stroke-opacity="0.32" stroke-width="1.0"/>
<circle cx="216.4" cy="281.9" r="3.00" fill="#ffa500" fill-opacity="0.32" stroke="#ffa500" stroke-opacity="0.32" stroke-width="1.0"/>
<circle cx="216.4" cy="273.6" r="2.50" fill="#ffa500" fill-opacity="0.32" stroke="#ffa500" stroke-opacity="0.32" stroke-width="1.0"/>
<circle cx="220.0" cy="274.8" r="2.50" fill="#ffa500" fill-opacity="0.32" stroke="#ffa500" stroke-opacity="0.32" stroke-width="1.0"/>
<circle cx="224.8" cy="273.0" r="3.80" fill="#ffff00" fill-opacity="0.3" stroke="#ffff00" stroke-opacity="0.3" stroke-width="1.0"/>
<circle cx="224.8" cy="285.4" r="2.50" fill="#ffa500" fill-opacity="0.32" stroke="#ffa500" stroke-opacity="0.32" stroke-width="1.0"/>
<circle cx="224.2" cy="289.0" r="2.50" fill="#ffa500" fill-opacity="0.32" stroke="#ffa500" stroke-opacity="0.32" stroke-width="1.0"/>
<circle cx="230.1" cy="287.2" r="2.50" fill="#ffa500" fill-opacity="0.32" stroke="#ffa500" stroke-opacity="0.32" stroke-width="1.0"/>
<circle cx="187.3" cy="292.0" r="3.00" fill="#ffa500" fill-opacity="0.32" stroke="#ffa500" stroke-opacity="0.32" stroke-width="1.0"/>
<circle cx="199.2" cy="290.8" r="3.00" fill="#ffa500" fill-opacity="0.32" stroke="#ffa500" stroke-opacity="0.32" stroke-width="1.0"/>
<circle cx="207.0" cy="287.8" r="4.30" fill="#ffff00" fill-opacity="0.3" stroke="#ffff00" stroke-opacity="0.3" stroke-width="1.0"/>
<circle cx="207.0" cy="292.0" r="4.80" fill="#ffff00" fill-opacity="0.3" stroke="#ffff00" stroke-opacity="0.3" stroke-width="1.0"/>
<circle cx="206.3" cy="295.5" r="3.50" fill="#ffa500" fill-opacity="0.32" stroke="#ffa500" stroke-opacity="0.32" stroke-width="1.0"/>
<circle cx="207.0" cy="297.3" r="4.30" fill="#ffff00" fill-opacity="0.3" stroke="#ffff00" stroke-opacity="0.3" stroke-width="1.0"/>
<circle cx="207.5" cy="305.6" r="4.30" fill="#ffff00" fill-opacity="0.3" stroke="#ffff00" stroke-opacity="0.3" stroke-width="1.0"/>
<circle cx="208.1" cy="306.8" r="3.50" fill="#ffa500" fill-opacity="0.32" stroke="#ffa500" stroke-opacity="0.32" stroke-width="1.0"/>
<circle cx="208.1" cy="309.2" r="4.30" fill="#ffff00" fill-opacity="0.3" stroke="#ffff00" stroke-opacity="0.3" stroke-width="1.0"/>
<circle cx="207.0" cy="315.1" r="4.30" fill="#ffff00" fill-opacity="0.3" stroke="#ffff00" stroke-opacity="0.3" stroke-width="1.0"/>
<circle cx="214.7" cy="297.3" r="3.50" fill="#ffa500" fill-opacity="0.32" stroke="#ffa500" stroke-opacity="0.32" stroke-width="1.0"/>
<circle cx="214.1" cy="302.7" r="3.00" fill="#ffa500" fill-opacity="0.32" stroke="#ffa500" stroke-opacity="0.32" stroke-width="1.0"/>
<circle cx="223.0" cy="295.5" r="4.30" fill="#ffff00" fill-opacity="0.3" stroke="#ffff00" stroke-opacity="0.3" stroke-width="1.0"/>
<circle cx="223.6" cy="300.3" r="3.50" fill="#ffa500" fill-opacity="0.32" stroke="#ffa500" stroke-opacity="0.32" stroke-width="1.0"/>
<circle cx="222.4" cy="305.6" r="4.30" fill="#ffff00" fill-opacity="0.3" stroke="#ffff00" stroke-opacity="0.3" stroke-width="1.0"/>
<circle cx="221.8" cy="311.0" r="4.30" fill="#ffff00" fill-opacity="0.3" stroke="#ffff00" stroke-opacity="0.3" stroke-width="1.0"/>
<circle cx="223.0" cy="316.9" r="4.30" fill="#ffff00" fill-opacity="0.3" stroke="#ffff00" stroke-opacity="0.3" stroke-width="1.0"/>
<circle cx="189.1" cy="300.3" r="3.00" fill="#ffa500" fill-opacity="0.32" stroke="#ffa500" stroke-opacity="0.32" stroke-width="1.0"/>
<circle cx="193.9" cy="297.3" r="3.00" fill="#ffa500" fill-opacity="0.32" stroke="#ffa500" stroke-opacity="0.32" stroke-width="1.0"/>
<circle cx="197.4" cy="295.5" r="3.00" fill="#ffa500" fill-opacity="0.32" stroke="#ffa500" stroke-opacity="0.32" stroke-width="1.0"/>
<circle cx="196.8" cy="301.5" r="3.00" fill="#ffa500" fill-opacity="0.32" stroke="#ffa500" stroke-opacity="0.32" stroke-width="1.0"/>
<circle cx="191.5" cy="306.8" r="3.00" fill="#ffa500" fill-opacity="0.32" stroke="#ffa500" stroke-opacity="0.32" stroke-width="1.0"/>
<circle cx="189.1" cy="310.4" r="3.00" fill="#ffa500" fill-opacity="0.32" stroke="#ffa500" stroke-opacity="0.32" stroke-width="1.0"/>
<circle cx="193.9" cy="312.2" r="3.00" fill="#ffa500" fill-opacity="0.32" stroke="#ffa500" stroke-opacity="0.32" stroke-width="1.0"/>
<circle cx="199.8" cy="308.0" r="3.00" fill="#ffa500" fill-opacity="0.32" stroke="#ffa500" stroke-opacity="0.32" stroke-width="1.0"/>
<circle cx="212.3" cy="311.0" r="3.00" fill="#ffa500" fill-opacity="0.32" stroke="#ffa500" stroke-opacity="0.32" stroke-width="1.0"/>
<circle cx="202.2" cy="300.9" r="3.00" fill="#ffa500" fill-opacity="0.32" stroke="#ffa500" stroke-opacity="0.32" stroke-width="1.0"/>
<circle cx="182.6" cy="286.6" r="2.50" fill="#0000ff" fill-opacity="0.33" stroke="#0000ff" stroke-opacity="0.33" stroke-width="1.0"/>
<circle cx="182.6" cy="296.7" r="2.50" fill="#00ff00" fill-opacity="0.33" stroke="#00ff00" stroke-opacity="0.33" stroke-width="1.0"/>
<circle cx="182.6" cy="301.5" r="2.50" fill="#0000ff" fill-opacity="0.33" stroke="#0000ff" stroke-opacity="0.33" stroke-width="1.0"/>
<circle cx="182.6" cy="312.2" r="2.50" fill="#0000ff" fill-opacity="0.33" stroke="#0000ff" stroke-opacity="0.33" stroke-width="1.0"/>
<circle cx="186.8" cy="317.5" r="3.00" fill="#ffa500" fill-opacity="0.32" stroke="#ffa500" stroke-opacity="0.32" stroke-width="1.0"/>
<circle cx="235.8" cy="263.4" r="3.00" fill="#ffa500" fill-opacity="0.32" stroke="#ffa500" stroke-opacity="0.32" stroke-width="1.0"/>
<circle cx="240.8" cy="264.1" r="3.00" fill="#ffa500" fill-opacity="0.32" stroke="#ffa500" stroke-opacity="0.32" stroke-width="1.0"/>
<circle cx="246.5" cy="263.4" r="3.00" fill="#ffa500" fill-opacity="0.32" stroke="#ffa500" stroke-opacity="0.32" stroke-width="1.0"/>
<circle cx="250.8" cy="264.1" r="3.00" fill="#ffa500" fill-opacity="0.32" stroke="#ffa500" stroke-opacity="0.32" stroke-width="1.0"/>
<circle cx="237.3" cy="272.0" r="3.00" fill="#ffa500" fill-opacity="0.32" stroke="#ffa500" stroke-opacity="0.32" stroke-width="1.0"/>
<circle cx="244.4" cy="271.7" r="3.00" fill="#ffa500" fill-opacity="0.32" stroke="#ffa500" stroke-opacity="0.32" stroke-width="1.0"/>
<circle cx="249.4" cy="270.6" r="3.00" fill="#ffa500" fill-opacity="0.32" stroke="#ffa500" stroke-opacity="0.32" stroke-width="1.0"/>
<circle cx="252.2" cy="271.3" r="2.50" fill="#ffa500" fill-opacity="0.32" stroke="#ffa500" stroke-opacity="0.32" stroke-width="1.0"/>
<circle cx="255.1" cy="276.3" r="3.00" fill="#ffa500" fill-opacity="0.32" stroke="#ffa500" stroke-opacity="0.32" stroke-width="1.0"/>
<circle cx="236.6" cy="280.5" r="3.00" fill="#ffa500" fill-opacity="0.32" stroke="#ffa500" stroke-opacity="0.32" stroke-width="1.0"/>
<circle cx="238.7" cy="282.7" r="3.00" fill="#ffa500" fill-opacity="0.32" stroke="#ffa500" stroke-opacity="0.32" stroke-width="1.0"/>
<circle cx="244.4" cy="282.4" r="2.50" fill="#ffff00" fill-opacity="0.3" stroke="#ffff00" stroke-opacity="0.3" stroke-width="1.0"/>
<circle cx="249.4" cy="279.8" r="2.50" fill="#ffa500" fill-opacity="0.32" stroke="#ffa500" stroke-opacity="0.32" stroke-width="1.0"/>
<circle cx="250.1" cy="284.8" r="3.00" fill="#ffa500" fill-opacity="0.32" stroke="#ffa500" stroke-opacity="0.32" stroke-width="1.0"/>
<circle cx="253.0" cy="286.9" r="2.50" fill="#ffa500" fill-opacity="0.32" stroke="#ffa500" stroke-opacity="0.32" stroke-width="1.0"/>
<circle cx="231.6" cy="287.7" r="2.50" fill="#ffa500" fill-opacity="0.32" stroke="#ffa500" stroke-opacity="0.32" stroke-width="1.0"/>
<circle cx="238.0" cy="291.2" r="3.00" fill="#ffa500" fill-opacity="0.32" stroke="#ffa500" stroke-opacity="0.32" stroke-width="1.0"/>
<circle cx="244.4" cy="291.2" r="2.50" fill="#ffa500" fill-opacity="0.32" stroke="#ffa500" stroke-opacity="0.32" stroke-width="1.0"/>
<circle cx="249.4" cy="291.9" r="3.00" fill="#ffa500" fill-opacity="0.32" stroke="#ffa500" stroke-opacity="0.32" stroke-width="1.0"/>
<circle cx="253.7" cy="291.9" r="2.50" fill="#ffa500" fill-opacity="0.32" stroke="#ffa500" stroke-opacity="0.32" stroke-width="1.0"/>
<circle cx="238.0" cy="298.3" r="2.50" fill="#ffa500" fill-opacity="0.32" stroke="#ffa500" stroke-opacity="0.32" stroke-width="1.0"/>
<circle cx="244.4" cy="298.3" r="3.00" fill="#ffa500" fill-opacity="0.32" stroke="#ffa500" stroke-opacity="0.32" stroke-width="1.0"/>
<circle cx="262.2" cy="299.8" r="3.00" fill="#ffa500" fill-opacity="0.32" stroke="#ffa500" stroke-opacity="0.32" stroke-width="1.0"/>
<circle cx="249.4" cy="304.0" r="3.00" fill="#ffa500" fill-opacity="0.32" stroke="#ffa500" stroke-opacity="0.32" stroke-width="1.0"/>
<circle cx="235.8" cy="305.5" r="3.00" fill="#ffa500" fill-opacity="0.32" stroke="#ffa500" stroke-opacity="0.32" stroke-width="1.0"/>
<circle cx="238.7" cy="310.5" r="3.00" fill="#ffa500" fill-opacity="0.32" stroke="#ffa500" stroke-opacity="0.32" stroke-width="1.0"/>
<circle cx="233.7" cy="314.7" r="3.50" fill="#ffa500" fill-opacity="0.32" stroke="#ffa500" stroke-opacity="0.32" stroke-width="1.0"/>
<circle cx="236.6" cy="316.9" r="3.50" fill="#ffa500" fill-opacity="0.32" stroke="#ffa500" stroke-opacity="0.32" stroke-width="1.0"/>
<circle cx="242.3" cy="318.3" r="3.00" fill="#ffa500" fill-opacity="0.32" stroke="#ffa500" stroke-opacity="0.32" stroke-width="1.0"/>
<circle cx="246.5" cy="319.0" r="3.00" fill="#ffa500" fill-opacity="0.32" stroke="#ffa500" stroke-opacity="0.32" stroke-width="1.0"/>
<circle cx="232.3" cy="319.0" r="3.00" fill="#ffa500" fill-opacity="0.32" stroke="#ffa500" stroke-opacity="0.32" stroke-width="1.0"/>
<circle cx="250.5" cy="315.0" r="2.50" fill="#ffff00" fill-opacity="0.3" stroke="#ffff00" stroke-opacity="0.3" stroke-width="1.0"/>
<circle cx="264.0" cy="320.5" r="6.80" fill="#ffa500" fill-opacity="0.32" stroke="#ffa500" stroke-opacity="0.32" stroke-width="1.0"/>
<circle cx="264.3" cy="334.8" r="6.30" fill="#ffff00" fill-opacity="0.3" stroke="#ffff00" stroke-opacity="0.3" stroke-width="1.0"/>
<circle cx="264.3" cy="359.0" r="6.30" fill="#ffa500" fill-opacity="0.32" stroke="#ffa500" stroke-opacity="0.32" stroke-width="1.0"/>
<circle cx="276.0" cy="363.6" r="3.50" fill="#ffff00" fill-opacity="0.3" stroke="#ffff00" stroke-opacity="0.3" stroke-width="1.0"/>
<circle cx="275.7" cy="371.9" r="3.50" fill="#ffff00" fill-opacity="0.3" stroke="#ffff00" stroke-opacity="0.3" stroke-width="1.0"/>
<circle cx="238.7" cy="371.9" r="3.50" fill="#ffff00" fill-opacity="0.3" stroke="#ffff00" stroke-opacity="0.3" stroke-width="1.0"/>
<circle cx="232.3" cy="320.1" r="3.80" fill="#ffa500" fill-opacity="0.32" stroke="#ffa500" stroke-opacity="0.32" stroke-width="1.0"/>
<circle cx="237.3" cy="321.6" r="3.80" fill="#ffa500" fill-opacity="0.32" stroke="#ffa500" stroke-opacity="0.32" stroke-width="1.0"/>
<circle cx="242.3" cy="320.1" r="3.50" fill="#ffa500" fill-opacity="0.32" stroke="#ffa500" stroke-opacity="0.32" stroke-width="1.0"/>
<circle cx="246.5" cy="322.3" r="3.50" fill="#ffa500" fill-opacity="0.32" stroke="#ffa500" stroke-opacity="0.32" stroke-width="1.0"/>
<circle cx="249.4" cy="320.9" r="3.00" fill="#ffa500" fill-opacity="0.32" stroke="#ffa500" stroke-opacity="0.32" stroke-width="1.0"/>
<circle cx="236.6" cy="331.5" r="3.50" fill="#ffa500" fill-opacity="0.32" stroke="#ffa500" stroke-opacity="0.32" stroke-width="1.0"/>
<circle cx="234.4" cy="333.0" r="3.00" fill="#ffa500" fill-opacity="0.32" stroke="#ffa500" stroke-opacity="0.32" stroke-width="1.0"/>
<circle cx="244.0" cy="332.3" r="3.00" fill="#ffff00" fill-opacity="0.3" stroke="#ffff00" stroke-opacity="0.3" stroke-width="1.0"/>
<circle cx="244.0" cy="336.5" r="3.00" fill="#ffff00" fill-opacity="0.3" stroke="#ffff00" stroke-opacity="0.3" stroke-width="1.0"/>
<circle cx="250.1" cy="333.7" r="3.50" fill="#ffa500" fill-opacity="0.32" stroke="#ffa500" stroke-opacity="0.32" stroke-width="1.0"/>
<circle cx="251.5" cy="337.2" r="4.30" fill="#ffa500" fill-opacity="0.32" stroke="#ffa500" stroke-opacity="0.32" stroke-width="1.0"/>
<circle cx="239.4" cy="340.8" r="2.50" fill="#ffa500" fill-opacity="0.32" stroke="#ffa500" stroke-opacity="0.32" stroke-width="1.0"/>
<circle cx="244.4" cy="341.5" r="3.00" fill="#ffa500" fill-opacity="0.32" stroke="#ffa500" stroke-opacity="0.32" stroke-width="1.0"/>
<circle cx="235.8" cy="346.5" r="3.50" fill="#ffff00" fill-opacity="0.3" stroke="#ffff00" stroke-opacity="0.3" stroke-width="1.0"/>
<circle cx="238.7" cy="348.0" r="3.50" fill="#ffa500" fill-opacity="0.32" stroke="#ffa500" stroke-opacity="0.32" stroke-width="1.0"/>
<circle cx="238.7" cy="350.8" r="3.00" fill="#ffa500" fill-opacity="0.32" stroke="#ffa500" stroke-opacity="0.32" stroke-width="1.0"/>
<circle cx="236.6" cy="358.6" r="4.80" fill="#ffa500" fill-opacity="0.32" stroke="#ffa500" stroke-opacity="0.32" stroke-width="1.0"/>
<circle cx="234.4" cy="356.5" r="3.50" fill="#ffa500" fill-opacity="0.32" stroke="#ffa500" stroke-opacity="0.32" stroke-width="1.0"/>
<circle cx="244.4" cy="355.8" r="3.50" fill="#ffa500" fill-opacity="0.32" stroke="#ffa500" stroke-opacity="0.32" stroke-width="1.0"/>
<circle cx="228.0" cy="321.6" r="3.50" fill="#ffff00" fill-opacity="0.3" stroke="#ffff00" stroke-opacity="0.3" stroke-width="1.0"/>
<circle cx="191.1" cy="316.5" r="3.00" fill="#ffa500" fill-opacity="0.32" stroke="#ffa500" stroke-opacity="0.32" stroke-width="1.0"/>
<circle cx="191.9" cy="320.4" r="3.00" fill="#ffa500" fill-opacity="0.32" stroke="#ffa500" stroke-opacity="0.32" stroke-width="1.0"/>
<circle cx="191.1" cy="325.0" r="3.50" fill="#ffff00" fill-opacity="0.3" stroke="#ffff00" stroke-opacity="0.3" stroke-width="1.0"/>
<circle cx="191.1" cy="330.5" r="3.80" fill="#ffff00" fill-opacity="0.3" stroke="#ffff00" stroke-opacity="0.3" stroke-width="1.0"/>
<circle cx="191.9" cy="335.1" r="3.50" fill="#ffff00" fill-opacity="0.3" stroke="#ffff00" stroke-opacity="0.3" stroke-width="1.0"/>
<circle cx="191.1" cy="343.6" r="3.50" fill="#ffa500" fill-opacity="0.32" stroke="#ffa500" stroke-opacity="0.32" stroke-width="1.0"/>
<circle cx="191.1" cy="351.3" r="4.80" fill="#ffa500" fill-opacity="0.32" stroke="#ffa500" stroke-opacity="0.32" stroke-width="1.0"/>
<circle cx="191.6" cy="358.3" r="3.00" fill="#ffa500" fill-opacity="0.32" stroke="#ffa500" stroke-opacity="0.32" stroke-width="1.0"/>
<circle cx="188.0" cy="319.6" r="3.00" fill="#ffa500" fill-opacity="0.32" stroke="#ffa500" stroke-opacity="0.32" stroke-width="1.0"/>
<circle cx="188.8" cy="326.6" r="3.00" fill="#ffa500" fill-opacity="0.32" stroke="#ffa500" stroke-opacity="0.32" stroke-width="1.0"/>
<circle cx="202.0" cy="323.5" r="3.80" fill="#ffff00" fill-opacity="0.3" stroke="#ffff00" stroke-opacity="0.3" stroke-width="1.0"/>
<circle cx="201.2" cy="332.0" r="4.80" fill="#ffff00" fill-opacity="0.3" stroke="#ffff00" stroke-opacity="0.3" stroke-width="1.0"/>
<circle cx="203.0" cy="335.9" r="3.00" fill="#ffa500" fill-opacity="0.32" stroke="#ffa500" stroke-opacity="0.32" stroke-width="1.0"/>
<circle cx="201.2" cy="339.7" r="3.80" fill="#ffff00" fill-opacity="0.3" stroke="#ffff00" stroke-opacity="0.3" stroke-width="1.0"/>
<circle cx="202.0" cy="347.5" r="5.80" fill="#ffff00" fill-opacity="0.3" stroke="#ffff00" stroke-opacity="0.3" stroke-width="1.0"/>
<circle cx="207.4" cy="355.5" r="3.00" fill="#ffff00" fill-opacity="0.3" stroke="#ffff00" stroke-opacity="0.3" stroke-width="1.0"/>
<circle cx="207.8" cy="363.7" r="4.80" fill="#ffff00" fill-opacity="0.3" stroke="#ffff00" stroke-opacity="0.3" stroke-width="1.0"/>
<circle cx="210.5" cy="334.3" r="4.30" fill="#ffff00" fill-opacity="0.3" stroke="#ffff00" stroke-opacity="0.3" stroke-width="1.0"/>
<circle cx="207.4" cy="317.3" r="3.50" fill="#ffff00" fill-opacity="0.3" stroke="#ffff00" stroke-opacity="0.3" stroke-width="1.0"/>
<circle cx="211.2" cy="322.0" r="3.50" fill="#ffff00" fill-opacity="0.3" stroke="#ffff00" stroke-opacity="0.3" stroke-width="1.0"/>
<circle cx="211.2" cy="322.0" r="2.50" fill="#ffa500" fill-opacity="0.32" stroke="#ffa500" stroke-opacity="0.32" stroke-width="1.0"/>
<circle cx="219.0" cy="337.4" r="3.00" fill="#ffff00" fill-opacity="0.3" stroke="#ffff00" stroke-opacity="0.3" stroke-width="1.0"/>
<circle cx="222.8" cy="338.2" r="3.00" fill="#ffff00" fill-opacity="0.3" stroke="#ffff00" stroke-opacity="0.3" stroke-width="1.0"/>
<circle cx="223.6" cy="318.9" r="4.80" fill="#ffff00" fill-opacity="0.3" stroke="#ffff00" stroke-opacity="0.3" stroke-width="1.0"/>
<circle cx="223.6" cy="322.7" r="4.30" fill="#ffff00" fill-opacity="0.3" stroke="#ffff00" stroke-opacity="0.3" stroke-width="1.0"/>
<circle cx="222.0" cy="327.4" r="3.00" fill="#ffa500" fill-opacity="0.32" stroke="#ffa500" stroke-opacity="0.32" stroke-width="1.0"/>
<circle cx="227.1" cy="331.2" r="2.50" fill="#ffa500" fill-opacity="0.32" stroke="#ffa500" stroke-opacity="0.32" stroke-width="1.0"/>
<circle cx="220.0" cy="358.6" r="3.50" fill="#ffa500" fill-opacity="0.32" stroke="#ffa500" stroke-opacity="0.32" stroke-width="1.0"/>
<circle cx="182.6" cy="349.0" r="3.00" fill="#006400" fill-opacity="0.3" stroke="#006400" stroke-opacity="0.3" stroke-width="1.0"/>
<circle cx="181.9" cy="355.2" r="3.00" fill="#006400" fill-opacity="0.3" stroke="#006400" stroke-opacity="0.3" stroke-width="1.0"/>
<circle cx="181.9" cy="339.0" r="2.50" fill="#0000ff" fill-opacity="0.33" stroke="#0000ff" stroke-opacity="0.33" stroke-width="1.0"/>
<circle cx="180.3" cy="344.4" r="2.50" fill="#006400" fill-opacity="0.3" stroke="#006400" stroke-opacity="0.3" stroke-width="1.0"/>
<circle cx="182.6" cy="325.8" r="2.50" fill="#0000ff" fill-opacity="0.33" stroke="#0000ff" stroke-opacity="0.33" stroke-width="1.0"/>
<circle cx="181.1" cy="330.5" r="2.50" fill="#006400" fill-opacity="0.3" stroke="#006400" stroke-opacity="0.3" stroke-width="1.0"/>
<circle cx="182.6" cy="318.0" r="2.50" fill="#0000ff" fill-opacity="0.33" stroke="#0000ff" stroke-opacity="0.33" stroke-width="1.0"/>
<circle cx="183.4" cy="315.8" r="2.50" fill="#006400" fill-opacity="0.3" stroke="#006400" stroke-opacity="0.3" stroke-width="1.0"/>
<circle cx="178.0" cy="359.0" r="3.00" fill="#00ff00" fill-opacity="0.33" stroke="#00ff00" stroke-opacity="0.33" stroke-width="1.0"/>
<circle cx="153.1" cy="218.8" r="3.00" fill="#0000ff" fill-opacity="0.33" stroke="#0000ff" stroke-opacity="0.33" stroke-width="1.0"/>
<circle cx="174.5" cy="230.3" r="3.50" fill="#00ff00" fill-opacity="0.33" stroke="#00ff00" stroke-opacity="0.33" stroke-width="1.0"/>
<circle cx="173.9" cy="241.3" r="3.00" fill="#00ff00" fill-opacity="0.33" stroke="#00ff00" stroke-opacity="0.33" stroke-width="1.0"/>
<circle cx="174.2" cy="243.4" r="2.50" fill="#0000ff" fill-opacity="0.33" stroke="#0000ff" stroke-opacity="0.33" stroke-width="1.0"/>
<circle cx="181.7" cy="219.2" r="2.50" fill="#0000ff" fill-opacity="0.33" stroke="#0000ff" stroke-opacity="0.33" stroke-width="1.0"/>
<circle cx="174.2" cy="245.7" r="3.00" fill="#0000ff" fill-opacity="0.33" stroke="#0000ff" stroke-opacity="0.33" stroke-width="1.0"/>
<circle cx="157.8" cy="247.8" r="3.00" fill="#00ff00" fill-opacity="0.33" stroke="#00ff00" stroke-opacity="0.33" stroke-width="1.0"/>
<circle cx="154.9" cy="254.3" r="3.00" fill="#00ff00" fill-opacity="0.33" stroke="#00ff00" stroke-opacity="0.33" stroke-width="1.0"/>
<circle cx="163.5" cy="255.0" r="2.50" fill="#00ff00" fill-opacity="0.33" stroke="#00ff00" stroke-opacity="0.33" stroke-width="1.0"/>
<circle cx="171.3" cy="251.4" r="2.50" fill="#0000ff" fill-opacity="0.33" stroke="#0000ff" stroke-opacity="0.33" stroke-width="1.0"/>
<circle cx="174.2" cy="250.7" r="2.50" fill="#006400" fill-opacity="0.3" stroke="#006400" stroke-opacity="0.3" stroke-width="1.0"/>
<circle cx="170.3" cy="256.0" r="2.50" fill="#006400" fill-opacity="0.3" stroke="#006400" stroke-opacity="0.3" stroke-width="1.0"/>
<circle cx="175.6" cy="256.8" r="3.00" fill="#0000ff" fill-opacity="0.33" stroke="#0000ff" stroke-opacity="0.33" stroke-width="1.0"/>
<circle cx="180.6" cy="261.1" r="2.50" fill="#006400" fill-opacity="0.3" stroke="#006400" stroke-opacity="0.3" stroke-width="1.0"/>
<circle cx="150.4" cy="266.8" r="3.00" fill="#006400" fill-opacity="0.3" stroke="#006400" stroke-opacity="0.3" stroke-width="1.0"/>
<circle cx="156.6" cy="269.9" r="3.00" fill="#006400" fill-opacity="0.3" stroke="#006400" stroke-opacity="0.3" stroke-width="1.0"/>
<circle cx="150.7" cy="273.1" r="2.50" fill="#006400" fill-opacity="0.3" stroke="#006400" stroke-opacity="0.3" stroke-width="1.0"/>
<circle cx="145.7" cy="274.2" r="2.50" fill="#006400" fill-opacity="0.3" stroke="#006400" stroke-opacity="0.3" stroke-width="1.0"/>
<circle cx="170.3" cy="266.8" r="2.50" fill="#006400" fill-opacity="0.3" stroke="#006400" stroke-opacity="0.3" stroke-width="1.0"/>
<circle cx="174.6" cy="266.4" r="2.50" fill="#00ff00" fill-opacity="0.33" stroke="#00ff00" stroke-opacity="0.33" stroke-width="1.0"/>
<circle cx="177.0" cy="270.6" r="2.50" fill="#0000ff" fill-opacity="0.33" stroke="#0000ff" stroke-opacity="0.33" stroke-width="1.0"/>
<circle cx="174.2" cy="276.1" r="2.50" fill="#006400" fill-opacity="0.3" stroke="#006400" stroke-opacity="0.3" stroke-width="1.0"/>
<circle cx="135.7" cy="282.0" r="2.50" fill="#006400" fill-opacity="0.3" stroke="#006400" stroke-opacity="0.3" stroke-width="1.0"/>
<circle cx="147.1" cy="283.0" r="2.50" fill="#006400" fill-opacity="0.3" stroke="#006400" stroke-opacity="0.3" stroke-width="1.0"/>
<circle cx="153.2" cy="282.8" r="2.50" fill="#006400" fill-opacity="0.3" stroke="#006400" stroke-opacity="0.3" stroke-width="1.0"/>
<circle cx="158.1" cy="284.5" r="2.50" fill="#006400" fill-opacity="0.3" stroke="#006400" stroke-opacity="0.3" stroke-width="1.0"/>
<circle cx="137.1" cy="287.7" r="2.50" fill="#006400" fill-opacity="0.3" stroke="#006400" stroke-opacity="0.3" stroke-width="1.0"/>
<circle cx="137.5" cy="292.4" r="2.50" fill="#006400" fill-opacity="0.3" stroke="#006400" stroke-opacity="0.3" stroke-width="1.0"/>
<circle cx="144.2" cy="292.0" r="3.00" fill="#006400" fill-opacity="0.3" stroke="#006400" stroke-opacity="0.3" stroke-width="1.0"/>
<circle cx="144.2" cy="292.0" r="2.50" fill="#006400" fill-opacity="0.3" stroke="#006400" stroke-opacity="0.3" stroke-width="1.0"/>
<circle cx="146.4" cy="290.6" r="2.50" fill="#0000ff" fill-opacity="0.33" stroke="#0000ff" stroke-opacity="0.33" stroke-width="1.0"/>
<circle cx="150.7" cy="289.9" r="2.50" fill="#006400" fill-opacity="0.3" stroke="#006400" stroke-opacity="0.3" stroke-width="1.0"/>
<circle cx="154.2" cy="294.9" r="2.50" fill="#006400" fill-opacity="0.3" stroke="#006400" stroke-opacity="0.3" stroke-width="1.0"/>
<circle cx="147.5" cy="297.0" r="2.50" fill="#0000ff" fill-opacity="0.33" stroke="#0000ff" stroke-opacity="0.33" stroke-width="1.0"/>
<circle cx="163.2" cy="284.9" r="3.00" fill="#0000ff" fill-opacity="0.33" stroke="#0000ff" stroke-opacity="0.33" stroke-width="1.0"/>
<circle cx="167.8" cy="287.0" r="2.50" fill="#0000ff" fill-opacity="0.33" stroke="#0000ff" stroke-opacity="0.33" stroke-width="1.0"/>
<circle cx="170.6" cy="281.3" r="3.00" fill="#00ff00" fill-opacity="0.33" stroke="#00ff00" stroke-opacity="0.33" stroke-width="1.0"/>
<circle cx="174.2" cy="283.5" r="2.50" fill="#006400" fill-opacity="0.3" stroke="#006400" stroke-opacity="0.3" stroke-width="1.0"/>
<circle cx="169.2" cy="289.2" r="3.50" fill="#0000ff" fill-opacity="0.33" stroke="#0000ff" stroke-opacity="0.33" stroke-width="1.0"/>
<circle cx="177.0" cy="287.0" r="2.50" fill="#0000ff" fill-opacity="0.33" stroke="#0000ff" stroke-opacity="0.33" stroke-width="1.0"/>
<circle cx="179.2" cy="289.9" r="2.50" fill="#0000ff" fill-opacity="0.33" stroke="#0000ff" stroke-opacity="0.33" stroke-width="1.0"/>
<circle cx="164.2" cy="292.7" r="3.00" fill="#0000ff" fill-opacity="0.33" stroke="#0000ff" stroke-opacity="0.33" stroke-width="1.0"/>
<circle cx="174.2" cy="293.4" r="3.00" fill="#0000ff" fill-opacity="0.33" stroke="#0000ff" stroke-opacity="0.33" stroke-width="1.0"/>
<circle cx="164.9" cy="297.7" r="2.50" fill="#006400" fill-opacity="0.3" stroke="#006400" stroke-opacity="0.3" stroke-width="1.0"/>
<circle cx="167.8" cy="298.4" r="2.50" fill="#006400" fill-opacity="0.3" stroke="#006400" stroke-opacity="0.3" stroke-width="1.0"/>
<circle cx="175.6" cy="297.0" r="2.50" fill="#0000ff" fill-opacity="0.33" stroke="#0000ff" stroke-opacity="0.33" stroke-width="1.0"/>
<circle cx="138.5" cy="299.1" r="2.50" fill="#006400" fill-opacity="0.3" stroke="#006400" stroke-opacity="0.3" stroke-width="1.0"/>
<circle cx="157.1" cy="299.1" r="2.50" fill="#006400" fill-opacity="0.3" stroke="#006400" stroke-opacity="0.3" stroke-width="1.0"/>
<circle cx="182.7" cy="297.0" r="2.50" fill="#006400" fill-opacity="0.3" stroke="#006400" stroke-opacity="0.3" stroke-width="1.0"/>
<circle cx="182.7" cy="297.0" r="2.50" fill="#006400" fill-opacity="0.3" stroke="#006400" stroke-opacity="0.3" stroke-width="1.0"/>
<circle cx="138.5" cy="300.0" r="2.50" fill="#006400" fill-opacity="0.3" stroke="#006400" stroke-opacity="0.3" stroke-width="1.0"/>
<circle cx="146.4" cy="297.1" r="2.50" fill="#0000ff" fill-opacity="0.33" stroke="#0000ff" stroke-opacity="0.33" stroke-width="1.0"/>
<circle cx="154.2" cy="295.7" r="2.50" fill="#006400" fill-opacity="0.3" stroke="#006400" stroke-opacity="0.3" stroke-width="1.0"/>
<circle cx="163.5" cy="296.4" r="2.50" fill="#0000ff" fill-opacity="0.33" stroke="#0000ff" stroke-opacity="0.33" stroke-width="1.0"/>
<circle cx="167.8" cy="299.3" r="2.50" fill="#006400" fill-opacity="0.3" stroke="#006400" stroke-opacity="0.3" stroke-width="1.0"/>
<circle cx="174.2" cy="296.4" r="2.50" fill="#0000ff" fill-opacity="0.33" stroke="#0000ff" stroke-opacity="0.33" stroke-width="1.0"/>
<circle cx="181.3" cy="301.4" r="3.00" fill="#0000ff" fill-opacity="0.33" stroke="#0000ff" stroke-opacity="0.33" stroke-width="1.0"/>
<circle cx="125.7" cy="302.8" r="3.00" fill="#00ff00" fill-opacity="0.33" stroke="#00ff00" stroke-opacity="0.33" stroke-width="1.0"/>
<circle cx="144.2" cy="304.3" r="3.00" fill="#0000ff" fill-opacity="0.33" stroke="#0000ff" stroke-opacity="0.33" stroke-width="1.0"/>
<circle cx="147.8" cy="302.8" r="2.50" fill="#006400" fill-opacity="0.3" stroke="#006400" stroke-opacity="0.3" stroke-width="1.0"/>
<circle cx="150.7" cy="305.0" r="3.00" fill="#00ff00" fill-opacity="0.33" stroke="#00ff00" stroke-opacity="0.33" stroke-width="1.0"/>
<circle cx="153.5" cy="306.4" r="2.50" fill="#006400" fill-opacity="0.3" stroke="#006400" stroke-opacity="0.3" stroke-width="1.0"/>
<circle cx="156.4" cy="307.8" r="3.00" fill="#00ff00" fill-opacity="0.33" stroke="#00ff00" stroke-opacity="0.33" stroke-width="1.0"/>
<circle cx="158.5" cy="303.6" r="2.50" fill="#006400" fill-opacity="0.3" stroke="#006400" stroke-opacity="0.3" stroke-width="1.0"/>
<circle cx="161.3" cy="305.0" r="2.50" fill="#006400" fill-opacity="0.3" stroke="#006400" stroke-opacity="0.3" stroke-width="1.0"/>
<circle cx="172.7" cy="303.6" r="2.50" fill="#0000ff" fill-opacity="0.33" stroke="#0000ff" stroke-opacity="0.33" stroke-width="1.0"/>
<circle cx="174.9" cy="307.8" r="2.50" fill="#0000ff" fill-opacity="0.33" stroke="#0000ff" stroke-opacity="0.33" stroke-width="1.0"/>
<circle cx="179.9" cy="306.4" r="2.50" fill="#0000ff" fill-opacity="0.33" stroke="#0000ff" stroke-opacity="0.33" stroke-width="1.0"/>
<circle cx="126.4" cy="310.7" r="2.50" fill="#0000ff" fill-opacity="0.33" stroke="#0000ff" stroke-opacity="0.33" stroke-width="1.0"/>
<circle cx="130.0" cy="312.8" r="2.50" fill="#0000ff" fill-opacity="0.33" stroke="#0000ff" stroke-opacity="0.33" stroke-width="1.0"/>
<circle cx="136.4" cy="312.1" r="2.50" fill="#006400" fill-opacity="0.3" stroke="#006400" stroke-opacity="0.3" stroke-width="1.0"/>
<circle cx="142.1" cy="309.3" r="2.50" fill="#006400" fill-opacity="0.3" stroke="#006400" stroke-opacity="0.3" stroke-width="1.0"/>
<circle cx="149.9" cy="312.1" r="2.50" fill="#0000ff" fill-opacity="0.33" stroke="#0000ff" stroke-opacity="0.33" stroke-width="1.0"/>
<circle cx="153.5" cy="312.1" r="2.50" fill="#0000ff" fill-opacity="0.33" stroke="#0000ff" stroke-opacity="0.33" stroke-width="1.0"/>
<circle cx="164.2" cy="310.7" r="2.50" fill="#006400" fill-opacity="0.3" stroke="#006400" stroke-opacity="0.3" stroke-width="1.0"/>
<circle cx="169.2" cy="313.5" r="3.00" fill="#006400" fill-opacity="0.3" stroke="#006400" stroke-opacity="0.3" stroke-width="1.0"/>
<circle cx="173.5" cy="315.0" r="3.00" fill="#00ff00" fill-opacity="0.33" stroke="#00ff00" stroke-opacity="0.33" stroke-width="1.0"/>
<circle cx="175.6" cy="318.5" r="3.00" fill="#00ff00" fill-opacity="0.33" stroke="#00ff00" stroke-opacity="0.33" stroke-width="1.0"/>
<circle cx="179.2" cy="316.4" r="2.50" fill="#006400" fill-opacity="0.3" stroke="#006400" stroke-opacity="0.3" stroke-width="1.0"/>
<circle cx="127.9" cy="317.8" r="2.50" fill="#006400" fill-opacity="0.3" stroke="#006400" stroke-opacity="0.3" stroke-width="1.0"/>
<circle cx="132.8" cy="316.4" r="2.50" fill="#006400" fill-opacity="0.3" stroke="#006400" stroke-opacity="0.3" stroke-width="1.0"/>
<circle cx="142.1" cy="317.8" r="2.50" fill="#006400" fill-opacity="0.3" stroke="#006400" stroke-opacity="0.3" stroke-width="1.0"/>
<circle cx="147.8" cy="319.2" r="2.50" fill="#006400" fill-opacity="0.3" stroke="#006400" stroke-opacity="0.3" stroke-width="1.0"/>
<circle cx="154.9" cy="318.5" r="2.50" fill="#006400" fill-opacity="0.3" stroke="#006400" stroke-opacity="0.3" stroke-width="1.0"/>
<circle cx="162.8" cy="317.8" r="2.50" fill="#0000ff" fill-opacity="0.33" stroke="#0000ff" stroke-opacity="0.33" stroke-width="1.0"/>
<circle cx="172.0" cy="319.9" r="2.50" fill="#006400" fill-opacity="0.3" stroke="#006400" stroke-opacity="0.3" stroke-width="1.0"/>
<circle cx="127.1" cy="322.1" r="2.50" fill="#006400" fill-opacity="0.3" stroke="#006400" stroke-opacity="0.3" stroke-width="1.0"/>
<circle cx="133.6" cy="323.5" r="2.50" fill="#006400" fill-opacity="0.3" stroke="#006400" stroke-opacity="0.3" stroke-width="1.0"/>
<circle cx="141.8" cy="323.5" r="2.50" fill="#0000ff" fill-opacity="0.33" stroke="#0000ff" stroke-opacity="0.33" stroke-width="1.0"/>
<circle cx="147.1" cy="322.8" r="3.00" fill="#00ff00" fill-opacity="0.33" stroke="#00ff00" stroke-opacity="0.33" stroke-width="1.0"/>
<circle cx="152.1" cy="321.4" r="2.50" fill="#006400" fill-opacity="0.3" stroke="#006400" stroke-opacity="0.3" stroke-width="1.0"/>
<circle cx="159.9" cy="321.4" r="2.50" fill="#006400" fill-opacity="0.3" stroke="#006400" stroke-opacity="0.3" stroke-width="1.0"/>
<circle cx="164.9" cy="319.9" r="2.50" fill="#0000ff" fill-opacity="0.33" stroke="#0000ff" stroke-opacity="0.33" stroke-width="1.0"/>
<circle cx="170.6" cy="324.9" r="2.50" fill="#006400" fill-opacity="0.3" stroke="#006400" stroke-opacity="0.3" stroke-width="1.0"/>
<circle cx="176.3" cy="323.5" r="2.50" fill="#0000ff" fill-opacity="0.33" stroke="#0000ff" stroke-opacity="0.33" stroke-width="1.0"/>
<circle cx="181.3" cy="327.8" r="2.50" fill="#0000ff" fill-opacity="0.33" stroke="#0000ff" stroke-opacity="0.33" stroke-width="1.0"/>
<circle cx="135.0" cy="329.2" r="2.50" fill="#006400" fill-opacity="0.3" stroke="#006400" stroke-opacity="0.3" stroke-width="1.0"/>
<circle cx="139.3" cy="331.3" r="2.50" fill="#006400" fill-opacity="0.3" stroke="#006400" stroke-opacity="0.3" stroke-width="1.0"/>
<circle cx="145.7" cy="328.5" r="2.50" fill="#0000ff" fill-opacity="0.33" stroke="#0000ff" stroke-opacity="0.33" stroke-width="1.0"/>
<circle cx="144.2" cy="329.9" r="2.50" fill="#0000ff" fill-opacity="0.33" stroke="#0000ff" stroke-opacity="0.33" stroke-width="1.0"/>
<circle cx="155.6" cy="329.2" r="2.50" fill="#0000ff" fill-opacity="0.33" stroke="#0000ff" stroke-opacity="0.33" stroke-width="1.0"/>
<circle cx="164.2" cy="327.1" r="2.50" fill="#0000ff" fill-opacity="0.33" stroke="#0000ff" stroke-opacity="0.33" stroke-width="1.0"/>
<circle cx="169.2" cy="329.9" r="2.50" fill="#006400" fill-opacity="0.3" stroke="#006400" stroke-opacity="0.3" stroke-width="1.0"/>
<circle cx="127.1" cy="330.6" r="2.50" fill="#006400" fill-opacity="0.3" stroke="#006400" stroke-opacity="0.3" stroke-width="1.0"/>
<circle cx="164.2" cy="334.2" r="2.50" fill="#0000ff" fill-opacity="0.33" stroke="#0000ff" stroke-opacity="0.33" stroke-width="1.0"/>
<circle cx="167.8" cy="337.0" r="2.50" fill="#006400" fill-opacity="0.3" stroke="#006400" stroke-opacity="0.3" stroke-width="1.0"/>
<circle cx="173.5" cy="333.5" r="2.50" fill="#0000ff" fill-opacity="0.33" stroke="#0000ff" stroke-opacity="0.33" stroke-width="1.0"/>
<circle cx="174.9" cy="336.3" r="2.50" fill="#0000ff" fill-opacity="0.33" stroke="#0000ff" stroke-opacity="0.33" stroke-width="1.0"/>
<circle cx="179.2" cy="334.2" r="2.50" fill="#006400" fill-opacity="0.3" stroke="#006400" stroke-opacity="0.3" stroke-width="1.0"/>
<circle cx="126.4" cy="337.8" r="2.50" fill="#006400" fill-opacity="0.3" stroke="#006400" stroke-opacity="0.3" stroke-width="1.0"/>
<circle cx="129.3" cy="341.3" r="2.50" fill="#0000ff" fill-opacity="0.33" stroke="#0000ff" stroke-opacity="0.33" stroke-width="1.0"/>
<circle cx="145.7" cy="337.0" r="2.50" fill="#006400" fill-opacity="0.3" stroke="#006400" stroke-opacity="0.3" stroke-width="1.0"/>
<circle cx="151.4" cy="337.8" r="2.50" fill="#0000ff" fill-opacity="0.33" stroke="#0000ff" stroke-opacity="0.33" stroke-width="1.0"/>
<circle cx="156.4" cy="340.6" r="3.00" fill="#00ff00" fill-opacity="0.33" stroke="#00ff00" stroke-opacity="0.33" stroke-width="1.0"/>
<circle cx="148.5" cy="342.0" r="2.50" fill="#006400" fill-opacity="0.3" stroke="#006400" stroke-opacity="0.3" stroke-width="1.0"/>
<circle cx="172.0" cy="339.9" r="2.50" fill="#006400" fill-opacity="0.3" stroke="#006400" stroke-opacity="0.3" stroke-width="1.0"/>
<circle cx="177.7" cy="340.6" r="2.50" fill="#0000ff" fill-opacity="0.33" stroke="#0000ff" stroke-opacity="0.33" stroke-width="1.0"/>
<circle cx="181.3" cy="342.0" r="2.50" fill="#0000ff" fill-opacity="0.33" stroke="#0000ff" stroke-opacity="0.33" stroke-width="1.0"/>
<circle cx="143.5" cy="345.6" r="3.00" fill="#006400" fill-opacity="0.3" stroke="#006400" stroke-opacity="0.3" stroke-width="1.0"/>
<circle cx="143.5" cy="345.6" r="2.50" fill="#006400" fill-opacity="0.3" stroke="#006400" stroke-opacity="0.3" stroke-width="1.0"/>
<circle cx="135.7" cy="347.0" r="2.50" fill="#0000ff" fill-opacity="0.33" stroke="#0000ff" stroke-opacity="0.33" stroke-width="1.0"/>
<circle cx="147.1" cy="349.2" r="2.50" fill="#006400" fill-opacity="0.3" stroke="#006400" stroke-opacity="0.3" stroke-width="1.0"/>
<circle cx="154.2" cy="346.3" r="3.00" fill="#00ff00" fill-opacity="0.33" stroke="#00ff00" stroke-opacity="0.33" stroke-width="1.0"/>
<circle cx="152.8" cy="351.3" r="2.50" fill="#0000ff" fill-opacity="0.33" stroke="#0000ff" stroke-opacity="0.33" stroke-width="1.0"/>
<circle cx="157.1" cy="350.6" r="2.50" fill="#0000ff" fill-opacity="0.33" stroke="#0000ff" stroke-opacity="0.33" stroke-width="1.0"/>
<circle cx="163.5" cy="344.9" r="2.50" fill="#006400" fill-opacity="0.3" stroke="#006400" stroke-opacity="0.3" stroke-width="1.0"/>
<circle cx="172.7" cy="347.7" r="3.00" fill="#00ff00" fill-opacity="0.33" stroke="#00ff00" stroke-opacity="0.33" stroke-width="1.0"/>
<circle cx="163.5" cy="352.0" r="2.50" fill="#006400" fill-opacity="0.3" stroke="#006400" stroke-opacity="0.3" stroke-width="1.0"/>
<circle cx="130.7" cy="353.4" r="2.50" fill="#006400" fill-opacity="0.3" stroke="#006400" stroke-opacity="0.3" stroke-width="1.0"/>
<circle cx="182.0" cy="350.6" r="3.00" fill="#006400" fill-opacity="0.3" stroke="#006400" stroke-opacity="0.3" stroke-width="1.0"/>
<circle cx="84.2" cy="312.1" r="3.00" fill="#006400" fill-opacity="0.3" stroke="#006400" stroke-opacity="0.3" stroke-width="1.0"/>
<circle cx="93.2" cy="315.7" r="3.00" fill="#006400" fill-opacity="0.3" stroke="#006400" stroke-opacity="0.3" stroke-width="1.0"/>
<circle cx="99.9" cy="322.1" r="3.00" fill="#006400" fill-opacity="0.3" stroke="#006400" stroke-opacity="0.3" stroke-width="1.0"/>
<circle cx="99.9" cy="322.1" r="2.50" fill="#006400" fill-opacity="0.3" stroke="#006400" stroke-opacity="0.3" stroke-width="1.0"/>
<circle cx="107.8" cy="321.4" r="3.00" fill="#006400" fill-opacity="0.3" stroke="#006400" stroke-opacity="0.3" stroke-width="1.0"/>
<circle cx="94.6" cy="325.6" r="2.50" fill="#006400" fill-opacity="0.3" stroke="#006400" stroke-opacity="0.3" stroke-width="1.0"/>
<circle cx="88.1" cy="329.6" r="3.00" fill="#0000ff" fill-opacity="0.33" stroke="#0000ff" stroke-opacity="0.33" stroke-width="1.0"/>
<circle cx="80.7" cy="338.5" r="3.00" fill="#006400" fill-opacity="0.3" stroke="#006400" stroke-opacity="0.3" stroke-width="1.0"/>
<circle cx="80.7" cy="338.5" r="2.50" fill="#006400" fill-opacity="0.3" stroke="#006400" stroke-opacity="0.3" stroke-width="1.0"/>
<circle cx="89.2" cy="335.6" r="2.50" fill="#006400" fill-opacity="0.3" stroke="#006400" stroke-opacity="0.3" stroke-width="1.0"/>
<circle cx="91.4" cy="339.2" r="2.50" fill="#006400" fill-opacity="0.3" stroke="#006400" stroke-opacity="0.3" stroke-width="1.0"/>
<circle cx="95.6" cy="337.8" r="2.50" fill="#006400" fill-opacity="0.3" stroke="#006400" stroke-opacity="0.3" stroke-width="1.0"/>
<circle cx="86.4" cy="341.3" r="2.50" fill="#006400" fill-opacity="0.3" stroke="#006400" stroke-opacity="0.3" stroke-width="1.0"/>
<circle cx="92.1" cy="343.5" r="2.50" fill="#006400" fill-opacity="0.3" stroke="#006400" stroke-opacity="0.3" stroke-width="1.0"/>
<circle cx="97.1" cy="343.5" r="2.50" fill="#006400" fill-opacity="0.3" stroke="#006400" stroke-opacity="0.3" stroke-width="1.0"/>
<circle cx="105.6" cy="334.9" r="2.50" fill="#0000ff" fill-opacity="0.33" stroke="#0000ff" stroke-opacity="0.33" stroke-width="1.0"/>
<circle cx="110.6" cy="337.8" r="3.00" fill="#0000ff" fill-opacity="0.33" stroke="#0000ff" stroke-opacity="0.33" stroke-width="1.0"/>
<circle cx="106.3" cy="340.3" r="2.50" fill="#0000ff" fill-opacity="0.33" stroke="#0000ff" stroke-opacity="0.33" stroke-width="1.0"/>
<circle cx="115.6" cy="336.3" r="3.00" fill="#0000ff" fill-opacity="0.33" stroke="#0000ff" stroke-opacity="0.33" stroke-width="1.0"/>
<circle cx="118.4" cy="337.8" r="2.50" fill="#006400" fill-opacity="0.3" stroke="#006400" stroke-opacity="0.3" stroke-width="1.0"/>
<circle cx="103.5" cy="344.2" r="2.50" fill="#006400" fill-opacity="0.3" stroke="#006400" stroke-opacity="0.3" stroke-width="1.0"/>
<circle cx="112.0" cy="344.9" r="3.00" fill="#006400" fill-opacity="0.3" stroke="#006400" stroke-opacity="0.3" stroke-width="1.0"/>
<circle cx="112.0" cy="344.9" r="2.50" fill="#006400" fill-opacity="0.3" stroke="#006400" stroke-opacity="0.3" stroke-width="1.0"/>
<circle cx="117.7" cy="345.6" r="2.50" fill="#006400" fill-opacity="0.3" stroke="#006400" stroke-opacity="0.3" stroke-width="1.0"/>
<circle cx="75.0" cy="344.9" r="2.50" fill="#006400" fill-opacity="0.3" stroke="#006400" stroke-opacity="0.3" stroke-width="1.0"/>
<circle cx="77.8" cy="346.3" r="2.50" fill="#006400" fill-opacity="0.3" stroke="#006400" stroke-opacity="0.3" stroke-width="1.0"/>
<circle cx="94.2" cy="348.4" r="2.50" fill="#0000ff" fill-opacity="0.33" stroke="#0000ff" stroke-opacity="0.33" stroke-width="1.0"/>
<circle cx="75.0" cy="351.3" r="2.50" fill="#006400" fill-opacity="0.3" stroke="#006400" stroke-opacity="0.3" stroke-width="1.0"/>
<circle cx="88.5" cy="349.9" r="2.50" fill="#006400" fill-opacity="0.3" stroke="#006400" stroke-opacity="0.3" stroke-width="1.0"/>
<circle cx="69.3" cy="354.1" r="2.50" fill="#006400" fill-opacity="0.3" stroke="#006400" stroke-opacity="0.3" stroke-width="1.0"/>
<circle cx="81.4" cy="353.4" r="2.50" fill="#006400" fill-opacity="0.3" stroke="#006400" stroke-opacity="0.3" stroke-width="1.0"/>
<circle cx="86.4" cy="353.4" r="2.50" fill="#006400" fill-opacity="0.3" stroke="#006400" stroke-opacity="0.3" stroke-width="1.0"/>
<circle cx="103.5" cy="353.4" r="2.50" fill="#006400" fill-opacity="0.3" stroke="#006400" stroke-opacity="0.3" stroke-width="1.0"/>
<circle cx="114.9" cy="351.3" r="2.50" fill="#006400" fill-opacity="0.3" stroke="#006400" stroke-opacity="0.3" stroke-width="1.0"/>
<circle cx="122.7" cy="349.2" r="2.50" fill="#006400" fill-opacity="0.3" stroke="#006400" stroke-opacity="0.3" stroke-width="1.0"/>
<circle cx="123.4" cy="329.2" r="2.50" fill="#0000ff" fill-opacity="0.33" stroke="#0000ff" stroke-opacity="0.33" stroke-width="1.0"/>
<circle cx="124.1" cy="325.6" r="2.50" fill="#006400" fill-opacity="0.3" stroke="#006400" stroke-opacity="0.3" stroke-width="1.0"/>
<circle cx="124.1" cy="340.6" r="2.50" fill="#006400" fill-opacity="0.3" stroke="#006400" stroke-opacity="0.3" stroke-width="1.0"/>
<circle cx="53.8" cy="357.5" r="3.00" fill="#006400" fill-opacity="0.3" stroke="#006400" stroke-opacity="0.3" stroke-width="1.0"/>
<circle cx="67.9" cy="356.0" r="3.00" fill="#006400" fill-opacity="0.3" stroke="#006400" stroke-opacity="0.3" stroke-width="1.0"/>
<circle cx="67.9" cy="356.0" r="2.50" fill="#006400" fill-opacity="0.3" stroke="#006400" stroke-opacity="0.3" stroke-width="1.0"/>
<circle cx="74.0" cy="359.5" r="3.00" fill="#006400" fill-opacity="0.3" stroke="#006400" stroke-opacity="0.3" stroke-width="1.0"/>
<circle cx="74.0" cy="359.5" r="2.50" fill="#006400" fill-opacity="0.3" stroke="#006400" stroke-opacity="0.3" stroke-width="1.0"/>
<circle cx="75.2" cy="351.4" r="3.00" fill="#006400" fill-opacity="0.3" stroke="#006400" stroke-opacity="0.3" stroke-width="1.0"/>
<circle cx="74.7" cy="345.3" r="2.50" fill="#006400" fill-opacity="0.3" stroke="#006400" stroke-opacity="0.3" stroke-width="1.0"/>
<circle cx="77.8" cy="346.1" r="2.50" fill="#006400" fill-opacity="0.3" stroke="#006400" stroke-opacity="0.3" stroke-width="1.0"/>
<circle cx="80.8" cy="353.0" r="2.50" fill="#006400" fill-opacity="0.3" stroke="#006400" stroke-opacity="0.3" stroke-width="1.0"/>
<circle cx="80.0" cy="358.3" r="2.50" fill="#006400" fill-opacity="0.3" stroke="#006400" stroke-opacity="0.3" stroke-width="1.0"/>
<circle cx="86.1" cy="354.5" r="2.50" fill="#006400" fill-opacity="0.3" stroke="#006400" stroke-opacity="0.3" stroke-width="1.0"/>
<circle cx="86.1" cy="360.6" r="2.50" fill="#006400" fill-opacity="0.3" stroke="#006400" stroke-opacity="0.3" stroke-width="1.0"/>
<circle cx="89.2" cy="350.4" r="2.50" fill="#006400" fill-opacity="0.3" stroke="#006400" stroke-opacity="0.3" stroke-width="1.0"/>
<circle cx="81.6" cy="340.0" r="2.50" fill="#006400" fill-opacity="0.3" stroke="#006400" stroke-opacity="0.3" stroke-width="1.0"/>
<circle cx="86.1" cy="341.5" r="2.50" fill="#006400" fill-opacity="0.3" stroke="#006400" stroke-opacity="0.3" stroke-width="1.0"/>
<circle cx="91.5" cy="343.8" r="2.50" fill="#006400" fill-opacity="0.3" stroke="#006400" stroke-opacity="0.3" stroke-width="1.0"/>
<circle cx="96.8" cy="343.0" r="2.50" fill="#006400" fill-opacity="0.3" stroke="#006400" stroke-opacity="0.3" stroke-width="1.0"/>
<circle cx="103.7" cy="343.8" r="2.50" fill="#006400" fill-opacity="0.3" stroke="#006400" stroke-opacity="0.3" stroke-width="1.0"/>
<circle cx="103.7" cy="354.5" r="2.50" fill="#006400" fill-opacity="0.3" stroke="#006400" stroke-opacity="0.3" stroke-width="1.0"/>
<circle cx="109.0" cy="356.0" r="2.50" fill="#006400" fill-opacity="0.3" stroke="#006400" stroke-opacity="0.3" stroke-width="1.0"/>
<circle cx="115.1" cy="351.4" r="3.00" fill="#006400" fill-opacity="0.3" stroke="#006400" stroke-opacity="0.3" stroke-width="1.0"/>
<circle cx="115.1" cy="355.2" r="2.50" fill="#006400" fill-opacity="0.3" stroke="#006400" stroke-opacity="0.3" stroke-width="1.0"/>
<circle cx="122.7" cy="353.7" r="2.50" fill="#006400" fill-opacity="0.3" stroke="#006400" stroke-opacity="0.3" stroke-width="1.0"/>
<circle cx="123.5" cy="360.6" r="2.50" fill="#006400" fill-opacity="0.3" stroke="#006400" stroke-opacity="0.3" stroke-width="1.0"/>
<circle cx="116.3" cy="352.0" r="2.50" fill="#006400" fill-opacity="0.3" stroke="#006400" stroke-opacity="0.3" stroke-width="1.0"/>
<circle cx="124.3" cy="349.3" r="2.50" fill="#006400" fill-opacity="0.3" stroke="#006400" stroke-opacity="0.3" stroke-width="1.0"/>
<circle cx="130.3" cy="356.7" r="2.50" fill="#006400" fill-opacity="0.3" stroke="#006400" stroke-opacity="0.3" stroke-width="1.0"/>
<circle cx="128.3" cy="342.0" r="2.50" fill="#0000ff" fill-opacity="0.33" stroke="#0000ff" stroke-opacity="0.33" stroke-width="1.0"/>
<circle cx="125.7" cy="341.3" r="2.50" fill="#006400" fill-opacity="0.3" stroke="#006400" stroke-opacity="0.3" stroke-width="1.0"/>
<circle cx="149.0" cy="343.3" r="2.50" fill="#0000ff" fill-opacity="0.33" stroke="#0000ff" stroke-opacity="0.33" stroke-width="1.0"/>
<circle cx="153.0" cy="356.7" r="2.50" fill="#006400" fill-opacity="0.3" stroke="#006400" stroke-opacity="0.3" stroke-width="1.0"/>
<circle cx="155.0" cy="342.7" r="3.00" fill="#00ff00" fill-opacity="0.33" stroke="#00ff00" stroke-opacity="0.33" stroke-width="1.0"/>
<circle cx="139.0" cy="368.4" r="3.00" fill="#006400" fill-opacity="0.3" stroke="#006400" stroke-opacity="0.3" stroke-width="1.0"/>
<circle cx="170.3" cy="356.0" r="2.50" fill="#006400" fill-opacity="0.3" stroke="#006400" stroke-opacity="0.3" stroke-width="1.0"/>
<circle cx="174.3" cy="358.7" r="4.30" fill="#00ff00" fill-opacity="0.33" stroke="#00ff00" stroke-opacity="0.33" stroke-width="1.0"/>
<circle cx="173.7" cy="348.7" r="3.80" fill="#00ff00" fill-opacity="0.33" stroke="#00ff00" stroke-opacity="0.33" stroke-width="1.0"/>
<circle cx="177.0" cy="342.7" r="2.50" fill="#0000ff" fill-opacity="0.33" stroke="#0000ff" stroke-opacity="0.33" stroke-width="1.0"/>
<circle cx="181.7" cy="353.3" r="2.50" fill="#006400" fill-opacity="0.3" stroke="#006400" stroke-opacity="0.3" stroke-width="1.0"/>
<circle cx="181.0" cy="347.3" r="2.50" fill="#006400" fill-opacity="0.3" stroke="#006400" stroke-opacity="0.3" stroke-width="1.0"/>
<circle cx="244.8" cy="196.6" r="2.50" fill="#ff6347" fill-opacity="0.35" stroke="#ff6347" stroke-opacity="0.35" stroke-width="1.0"/>
<circle cx="244.8" cy="200.2" r="2.50" fill="#ff6347" fill-opacity="0.35" stroke="#ff6347" stroke-opacity="0.35" stroke-width="1.0"/>
<circle cx="253.1" cy="203.8" r="3.00" fill="#ff6347" fill-opacity="0.35" stroke="#ff6347" stroke-opacity="0.35" stroke-width="1.0"/>
<circle cx="249.5" cy="209.7" r="3.00" fill="#ff6347" fill-opacity="0.35" stroke="#ff6347" stroke-opacity="0.35" stroke-width="1.0"/>
<circle cx="244.8" cy="213.3" r="3.00" fill="#ff6347" fill-opacity="0.35" stroke="#ff6347" stroke-opacity="0.35" stroke-width="1.0"/>
<circle cx="249.5" cy="215.6" r="3.00" fill="#ff6347" fill-opacity="0.35" stroke="#ff6347" stroke-opacity="0.35" stroke-width="1.0"/>
<circle cx="241.2" cy="215.6" r="2.50" fill="#ff6347" fill-opacity="0.35" stroke="#ff6347" stroke-opacity="0.35" stroke-width="1.0"/>
<circle cx="241.2" cy="220.4" r="2.50" fill="#ff6347" fill-opacity="0.35" stroke="#ff6347" stroke-opacity="0.35" stroke-width="1.0"/>
<circle cx="249.5" cy="223.9" r="3.00" fill="#ffa500" fill-opacity="0.32" stroke="#ffa500" stroke-opacity="0.32" stroke-width="1.0"/>
<circle cx="264.9" cy="242.2" r="3.00" fill="#ffa500" fill-opacity="0.32" stroke="#ffa500" stroke-opacity="0.32" stroke-width="1.0"/>
<circle cx="244.8" cy="248.9" r="3.00" fill="#ffff00" fill-opacity="0.3" stroke="#ffff00" stroke-opacity="0.3" stroke-width="1.0"/>
<circle cx="243.6" cy="263.1" r="3.00" fill="#ffa500" fill-opacity="0.32" stroke="#ffa500" stroke-opacity="0.32" stroke-width="1.0"/>
<circle cx="250.7" cy="260.8" r="3.00" fill="#ffa500" fill-opacity="0.32" stroke="#ffa500" stroke-opacity="0.32" stroke-width="1.0"/>
<circle cx="191.1" cy="239.5" r="3.00" fill="#ffff00" fill-opacity="0.3" stroke="#ffff00" stroke-opacity="0.3" stroke-width="1.0"/>
<circle cx="222.5" cy="221.5" r="4.30" fill="#ffff00" fill-opacity="0.3" stroke="#ffff00" stroke-opacity="0.3" stroke-width="1.0"/>
<circle cx="207.3" cy="267.9" r="3.00" fill="#ffa500" fill-opacity="0.32" stroke="#ffa500" stroke-opacity="0.32" stroke-width="1.0"/>
<circle cx="211.6" cy="270.7" r="3.00" fill="#ffa500" fill-opacity="0.32" stroke="#ffa500" stroke-opacity="0.32" stroke-width="1.0"/>
<circle cx="198.8" cy="273.1" r="3.00" fill="#ffa500" fill-opacity="0.32" stroke="#ffa500" stroke-opacity="0.32" stroke-width="1.0"/>
<circle cx="188.3" cy="275.0" r="3.00" fill="#ffa500" fill-opacity="0.32" stroke="#ffa500" stroke-opacity="0.32" stroke-width="1.0"/>
<circle cx="189.7" cy="278.8" r="3.00" fill="#ffa500" fill-opacity="0.32" stroke="#ffa500" stroke-opacity="0.32" stroke-width="1.0"/>
<circle cx="191.6" cy="280.7" r="3.00" fill="#ffa500" fill-opacity="0.32" stroke="#ffa500" stroke-opacity="0.32" stroke-width="1.0"/>
<circle cx="213.5" cy="283.6" r="3.00" fill="#ffa500" fill-opacity="0.32" stroke="#ffa500" stroke-opacity="0.32" stroke-width="1.0"/>
<circle cx="216.9" cy="281.2" r="3.00" fill="#ffa500" fill-opacity="0.32" stroke="#ffa500" stroke-opacity="0.32" stroke-width="1.0"/>
<circle cx="215.4" cy="273.1" r="3.00" fill="#ffa500" fill-opacity="0.32" stroke="#ffa500" stroke-opacity="0.32" stroke-width="1.0"/>
<circle cx="218.8" cy="271.7" r="3.00" fill="#ffa500" fill-opacity="0.32" stroke="#ffa500" stroke-opacity="0.32" stroke-width="1.0"/>
<circle cx="220.7" cy="274.5" r="3.00" fill="#ffa500" fill-opacity="0.32" stroke="#ffa500" stroke-opacity="0.32" stroke-width="1.0"/>
<circle cx="187.8" cy="291.7" r="3.00" fill="#ffa500" fill-opacity="0.32" stroke="#ffa500" stroke-opacity="0.32" stroke-width="1.0"/>
<circle cx="212.6" cy="293.1" r="3.00" fill="#ffa500" fill-opacity="0.32" stroke="#ffa500" stroke-opacity="0.32" stroke-width="1.0"/>
<circle cx="185.9" cy="263.1" r="3.00" fill="#ffa500" fill-opacity="0.32" stroke="#ffa500" stroke-opacity="0.32" stroke-width="1.0"/>
<circle cx="207.0" cy="290.0" r="4.30" fill="#ffff00" fill-opacity="0.3" stroke="#ffff00" stroke-opacity="0.3" stroke-width="1.0"/>
<circle cx="167.8" cy="282.8" r="3.00" fill="#0000ff" fill-opacity="0.33" stroke="#0000ff" stroke-opacity="0.33" stroke-width="1.0"/>
<circle cx="181.7" cy="286.0" r="3.00" fill="#0000ff" fill-opacity="0.33" stroke="#0000ff" stroke-opacity="0.33" stroke-width="1.0"/>
<circle cx="164.0" cy="289.2" r="3.00" fill="#006400" fill-opacity="0.3" stroke="#006400" stroke-opacity="0.3" stroke-width="1.0"/>
<circle cx="171.5" cy="297.8" r="3.00" fill="#006400" fill-opacity="0.3" stroke="#006400" stroke-opacity="0.3" stroke-width="1.0"/>
<circle cx="183.5" cy="285.0" r="3.00" fill="#ffa500" fill-opacity="0.32" stroke="#ffa500" stroke-opacity="0.32" stroke-width="1.0"/>
<circle cx="172.6" cy="298.2" r="3.00" fill="#006400" fill-opacity="0.3" stroke="#006400" stroke-opacity="0.3" stroke-width="1.0"/>
<circle cx="167.8" cy="302.5" r="3.00" fill="#0000ff" fill-opacity="0.33" stroke="#0000ff" stroke-opacity="0.33" stroke-width="1.0"/>
<circle cx="181.7" cy="310.5" r="3.00" fill="#0000ff" fill-opacity="0.33" stroke="#0000ff" stroke-opacity="0.33" stroke-width="1.0"/>
<circle cx="179.0" cy="319.6" r="3.00" fill="#00ff00" fill-opacity="0.33" stroke="#00ff00" stroke-opacity="0.33" stroke-width="1.0"/>
<circle cx="180.6" cy="312.6" r="3.00" fill="#006400" fill-opacity="0.3" stroke="#006400" stroke-opacity="0.3" stroke-width="1.0"/>
<circle cx="172.0" cy="320.7" r="3.00" fill="#00ff00" fill-opacity="0.33" stroke="#00ff00" stroke-opacity="0.33" stroke-width="1.0"/>
<circle cx="174.7" cy="322.8" r="3.00" fill="#006400" fill-opacity="0.3" stroke="#006400" stroke-opacity="0.3" stroke-width="1.0"/>
<circle cx="181.1" cy="322.3" r="3.00" fill="#006400" fill-opacity="0.3" stroke="#006400" stroke-opacity="0.3" stroke-width="1.0"/>
<circle cx="171.0" cy="327.1" r="3.00" fill="#006400" fill-opacity="0.3" stroke="#006400" stroke-opacity="0.3" stroke-width="1.0"/>
<circle cx="176.9" cy="327.1" r="3.00" fill="#0000ff" fill-opacity="0.33" stroke="#0000ff" stroke-opacity="0.33" stroke-width="1.0"/>
<circle cx="181.7" cy="328.2" r="3.00" fill="#006400" fill-opacity="0.3" stroke="#006400" stroke-opacity="0.3" stroke-width="1.0"/>
<circle cx="157.1" cy="330.3" r="3.00" fill="#006400" fill-opacity="0.3" stroke="#006400" stroke-opacity="0.3" stroke-width="1.0"/>
<circle cx="171.0" cy="332.4" r="3.00" fill="#006400" fill-opacity="0.3" stroke="#006400" stroke-opacity="0.3" stroke-width="1.0"/>
<circle cx="177.4" cy="335.6" r="3.00" fill="#006400" fill-opacity="0.3" stroke="#006400" stroke-opacity="0.3" stroke-width="1.0"/>
<circle cx="181.7" cy="337.8" r="3.00" fill="#0000ff" fill-opacity="0.33" stroke="#0000ff" stroke-opacity="0.33" stroke-width="1.0"/>
</g>
<g clip-path="url(#pc)"><path d="M184.5 4.3V390.5" stroke="#000" stroke-width="1.1" stroke-dasharray="2.9 3.4" fill="none"/>
<path d="M184.5 220.45H399.0" stroke="#000" stroke-width="1.1" stroke-dasharray="3.2 3.15" stroke-dashoffset="0.9" fill="none"/></g>
<path d="M176.8 81.5H179V89.7H176.6V84.6L174.7 85.9V83.7Z" fill="#0000ff"/>
<text x="340.8" y="215" font-family="Liberation Sans, sans-serif" font-size="11.5" fill="#0000ff" text-anchor="middle" font-weight="bold">2</text>
<path d="M36.5 0V390.5H416V0" fill="none" stroke="#bababa" stroke-width="1.2"/>
<path d="M36 0.8H416.5" fill="none" stroke="#d6d6d6" stroke-width="1.6"/>
<path d="M32.9 372.60H36 M32.9 283.98H36 M32.9 195.35H36 M32.9 106.73H36 M32.9 18.10H36 M88.26 390.5V393.2 M165.95 390.5V393.2 M243.64 390.5V393.2 M321.33 390.5V393.2 M399.02 390.5V393.2" stroke="#b8b8b8" stroke-width="1.2" fill="none"/>
<text x="30.6" y="377.50" font-family="Liberation Sans, sans-serif" font-size="10.2" fill="#4d4d4d" text-anchor="end" textLength="5.45" lengthAdjust="spacingAndGlyphs" stroke="#4d4d4d" stroke-width="0.15">0</text>
<text x="30.6" y="288.88" font-family="Liberation Sans, sans-serif" font-size="10.2" fill="#4d4d4d" text-anchor="end" textLength="10.90" lengthAdjust="spacingAndGlyphs" stroke="#4d4d4d" stroke-width="0.15">25</text>
<text x="30.6" y="200.25" font-family="Liberation Sans, sans-serif" font-size="10.2" fill="#4d4d4d" text-anchor="end" textLength="10.90" lengthAdjust="spacingAndGlyphs" stroke="#4d4d4d" stroke-width="0.15">50</text>
<text x="30.6" y="111.63" font-family="Liberation Sans, sans-serif" font-size="10.2" fill="#4d4d4d" text-anchor="end" textLength="10.90" lengthAdjust="spacingAndGlyphs" stroke="#4d4d4d" stroke-width="0.15">75</text>
<text x="30.6" y="23.00" font-family="Liberation Sans, sans-serif" font-size="10.2" fill="#4d4d4d" text-anchor="end" textLength="16.35" lengthAdjust="spacingAndGlyphs" stroke="#4d4d4d" stroke-width="0.15">100</text>
<text x="88.26" y="404.8" font-family="Liberation Sans, sans-serif" font-size="10.2" fill="#4d4d4d" text-anchor="middle" textLength="5.45" lengthAdjust="spacingAndGlyphs" stroke="#4d4d4d" stroke-width="0.15">9</text>
<text x="165.95" y="404.8" font-family="Liberation Sans, sans-serif" font-size="10.2" fill="#4d4d4d" text-anchor="middle" textLength="10.90" lengthAdjust="spacingAndGlyphs" stroke="#4d4d4d" stroke-width="0.15">10</text>
<text x="243.64" y="404.8" font-family="Liberation Sans, sans-serif" font-size="10.2" fill="#4d4d4d" text-anchor="middle" textLength="10.90" lengthAdjust="spacingAndGlyphs" stroke="#4d4d4d" stroke-width="0.15">11</text>
<text x="321.33" y="404.8" font-family="Liberation Sans, sans-serif" font-size="10.2" fill="#4d4d4d" text-anchor="middle" textLength="10.90" lengthAdjust="spacingAndGlyphs" stroke="#4d4d4d" stroke-width="0.15">12</text>
<text x="399.02" y="404.8" font-family="Liberation Sans, sans-serif" font-size="10.2" fill="#4d4d4d" text-anchor="middle" textLength="10.90" lengthAdjust="spacingAndGlyphs" stroke="#4d4d4d" stroke-width="0.15">13</text>
<text x="185" y="418" font-family="Liberation Sans, sans-serif" font-size="11.4" fill="#000" textLength="71.5" lengthAdjust="spacingAndGlyphs" stroke="#000" stroke-width="0.15">log GDP/cap (</text>
<path d="M257.9 410.6H262.6 M257.9 412.6H262.6 M259.6 410.6C262.4 410.6 262.4 414.7 259.6 414.7H258.2L262.2 418.4" stroke="#000" stroke-width="1.1" fill="none"/>
<text x="263.2" y="418" font-family="Liberation Sans, sans-serif" font-size="11.4" fill="#000" stroke="#000" stroke-width="0.15">)</text>
<text transform="translate(10.6 195.5) rotate(-90)" font-family="Liberation Sans, sans-serif" font-size="11.4" fill="#000" stroke="#000" stroke-width="0.15" text-anchor="middle" textLength="76.3" lengthAdjust="spacingAndGlyphs">Urbanization %</text>
<text x="433.4" y="78.3" font-family="Liberation Sans, sans-serif" font-size="12.0" fill="#000" textLength="68.5" lengthAdjust="spacingAndGlyphs" stroke="#000" stroke-width="0.15">% 4-wheelers</text>
<circle cx="441.6" cy="94.0" r="3.40" fill="#000" fill-opacity="0.29" stroke="#000" stroke-opacity="0.29" stroke-width="1.0"/>
<text x="457" y="98.7" font-family="Liberation Sans, sans-serif" font-size="10.0" fill="#000" textLength="10.40" lengthAdjust="spacingAndGlyphs" stroke="#000" stroke-width="0.15">10</text>
<circle cx="441.6" cy="112.1" r="4.75" fill="#000" fill-opacity="0.29" stroke="#000" stroke-opacity="0.29" stroke-width="1.0"/>
<text x="457" y="116.8" font-family="Liberation Sans, sans-serif" font-size="10.0" fill="#000" textLength="10.40" lengthAdjust="spacingAndGlyphs" stroke="#000" stroke-width="0.15">20</text>
<circle cx="441.6" cy="130.1" r="5.60" fill="#000" fill-opacity="0.29" stroke="#000" stroke-opacity="0.29" stroke-width="1.0"/>
<text x="457" y="134.8" font-family="Liberation Sans, sans-serif" font-size="10.0" fill="#000" textLength="10.40" lengthAdjust="spacingAndGlyphs" stroke="#000" stroke-width="0.15">30</text>
<circle cx="441.6" cy="148.2" r="6.20" fill="#000" fill-opacity="0.29" stroke="#000" stroke-opacity="0.29" stroke-width="1.0"/>
<text x="457" y="152.9" font-family="Liberation Sans, sans-serif" font-size="10.0" fill="#000" textLength="10.40" lengthAdjust="spacingAndGlyphs" stroke="#000" stroke-width="0.15">40</text>
<text x="433.8" y="191.0" font-family="Liberation Sans, sans-serif" font-size="12.0" fill="#000" textLength="90.5" lengthAdjust="spacingAndGlyphs" stroke="#000" stroke-width="0.15">Node (Emissions)</text>
<circle cx="441.7" cy="205.8" r="6.50" fill="#006400" fill-opacity="0.3" stroke="#006400" stroke-opacity="0.3" stroke-width="1.0"/>
<text x="457" y="210.5" font-family="Liberation Sans, sans-serif" font-size="10.0" fill="#000" textLength="40.5" lengthAdjust="spacingAndGlyphs" stroke="#000" stroke-width="0.15">8 (5.4 kg)</text>
<circle cx="441.7" cy="223.8" r="6.50" fill="#00ff00" fill-opacity="0.33" stroke="#00ff00" stroke-opacity="0.33" stroke-width="1.0"/>
<text x="457" y="228.5" font-family="Liberation Sans, sans-serif" font-size="10.0" fill="#000" textLength="46.0" lengthAdjust="spacingAndGlyphs" stroke="#000" stroke-width="0.15">9 (12.5 kg)</text>
<circle cx="441.7" cy="241.8" r="6.50" fill="#0000ff" fill-opacity="0.33" stroke="#0000ff" stroke-opacity="0.33" stroke-width="1.0"/>
<text x="457" y="246.5" font-family="Liberation Sans, sans-serif" font-size="10.0" fill="#000" textLength="46.0" lengthAdjust="spacingAndGlyphs" stroke="#000" stroke-width="0.15">5 (12.1 kg)</text>
<circle cx="441.7" cy="259.9" r="6.50" fill="#ffff00" fill-opacity="0.3" stroke="#ffff00" stroke-opacity="0.3" stroke-width="1.0"/>
<text x="457" y="264.6" font-family="Liberation Sans, sans-serif" font-size="10.0" fill="#000" textLength="51.0" lengthAdjust="spacingAndGlyphs" stroke="#000" stroke-width="0.15">12 (12.9 kg)</text>
<circle cx="441.7" cy="277.9" r="6.50" fill="#ffa500" fill-opacity="0.32" stroke="#ffa500" stroke-opacity="0.32" stroke-width="1.0"/>
<text x="457" y="282.6" font-family="Liberation Sans, sans-serif" font-size="10.0" fill="#000" textLength="51.0" lengthAdjust="spacingAndGlyphs" stroke="#000" stroke-width="0.15">13 (20.4 kg)</text>
<circle cx="441.7" cy="295.9" r="6.50" fill="#ff6347" fill-opacity="0.35" stroke="#ff6347" stroke-opacity="0.35" stroke-width="1.0"/>
<text x="457" y="300.6" font-family="Liberation Sans, sans-serif" font-size="10.0" fill="#000" textLength="51.0" lengthAdjust="spacingAndGlyphs" stroke="#000" stroke-width="0.15">14 (35.6 kg)</text>
<circle cx="441.7" cy="313.9" r="6.50" fill="#8b0000" fill-opacity="0.32" stroke="#8b0000" stroke-opacity="0.32" stroke-width="1.0"/>
<text x="457" y="318.6" font-family="Liberation Sans, sans-serif" font-size="10.0" fill="#000" textLength="51.0" lengthAdjust="spacingAndGlyphs" stroke="#000" stroke-width="0.15">15 (89.4 kg)</text>
</svg>
</body></html>
